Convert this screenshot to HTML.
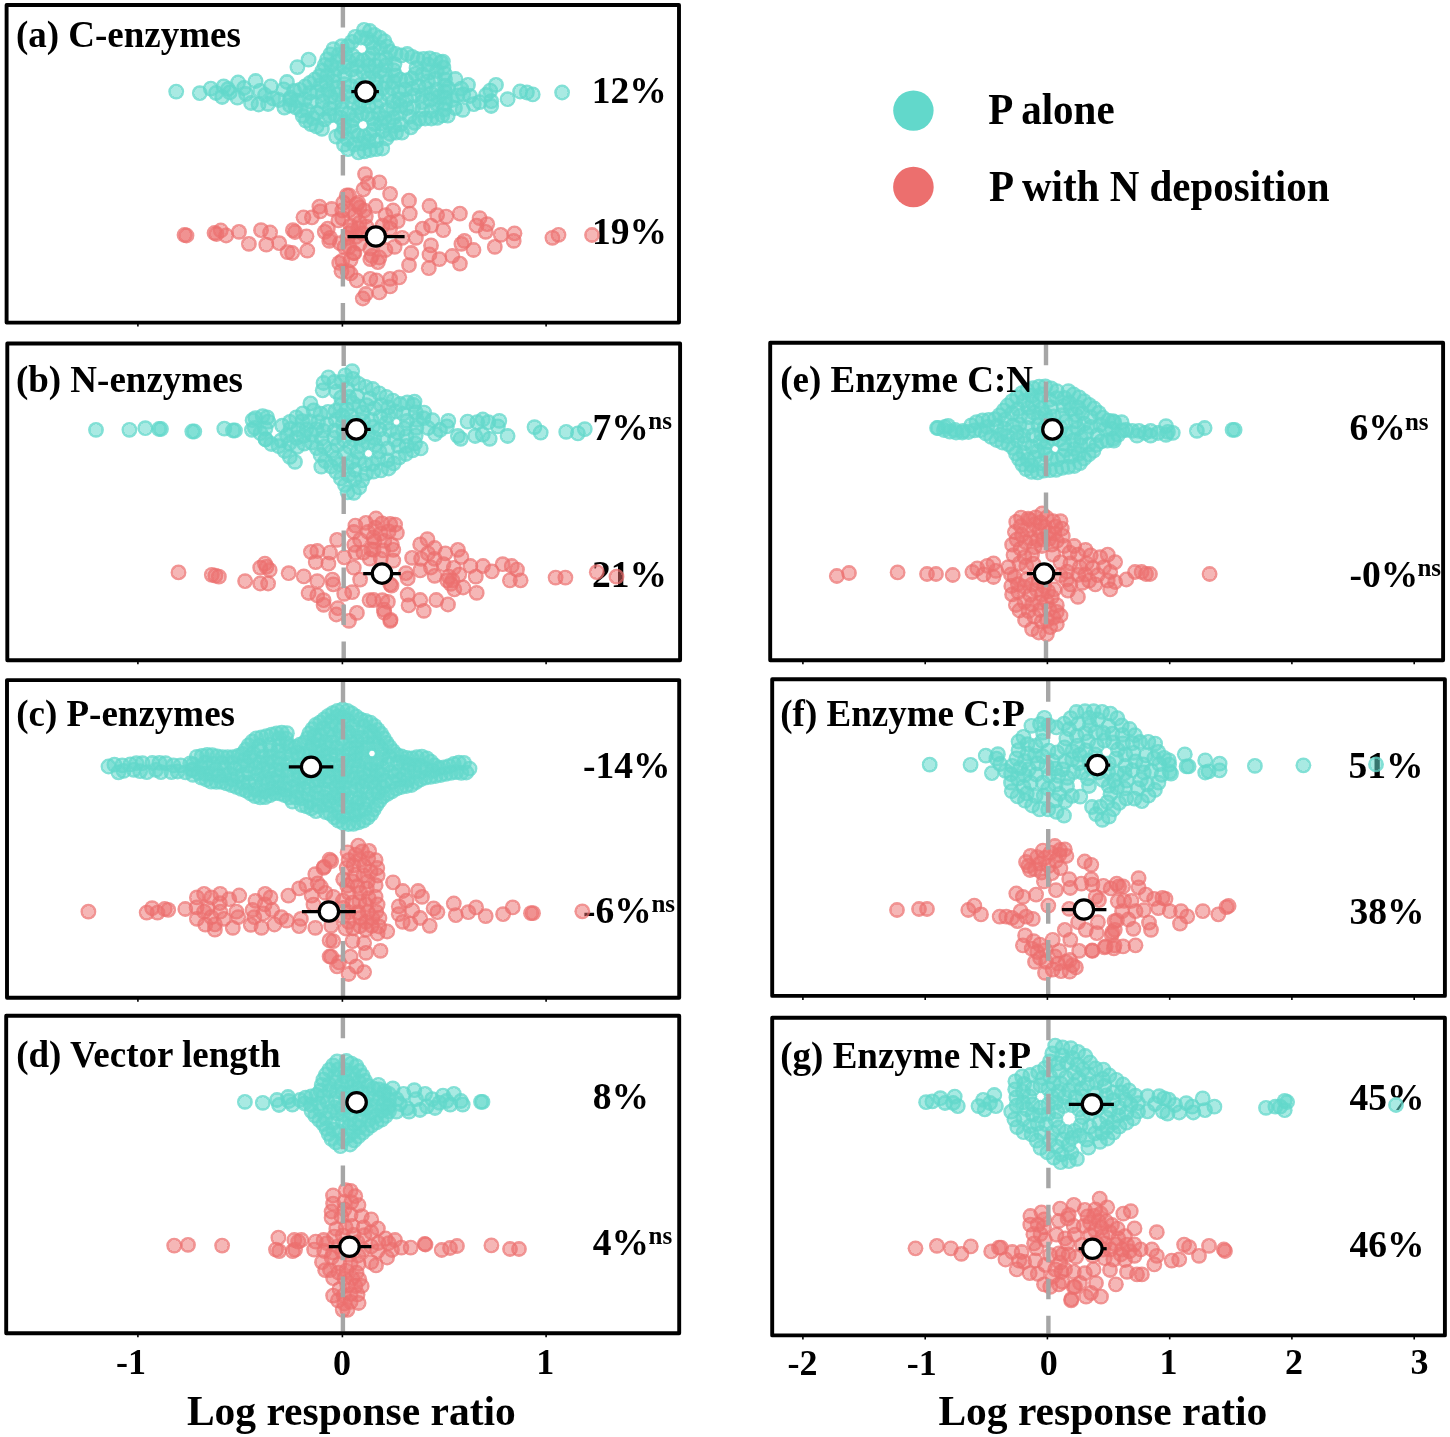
<!DOCTYPE html>
<html><head><meta charset="utf-8"><style>
html,body{margin:0;padding:0;background:#fff;width:1450px;height:1437px;overflow:hidden}
body{position:relative;font-family:"Liberation Serif",serif;font-weight:bold;color:#000;line-height:1}
div{white-space:nowrap}
sup{font-size:25px;vertical-align:0;position:relative;top:-0.52em;margin-left:2px}
svg{position:absolute;left:0;top:0}
body>*{filter:blur(0.4px)}
</style></head><body>
<div style="position:absolute;left:591.8px;top:71.8px;font-size:37.5px;">12%</div><div style="position:absolute;left:592.0px;top:213.4px;font-size:37.5px;">19%</div><div style="position:absolute;left:592.6px;top:409.0px;font-size:37.5px;">7%</div><div style="position:absolute;left:591.9px;top:556.2px;font-size:37.5px;">21%</div><div style="position:absolute;left:582.9px;top:746.5px;font-size:37.5px;">-14%</div><div style="position:absolute;left:582.9px;top:892.0px;font-size:37.5px;">-6%</div><div style="position:absolute;left:592.7px;top:1078.0px;font-size:37.5px;">8%</div><div style="position:absolute;left:592.7px;top:1224.2px;font-size:37.5px;">4%</div><div style="position:absolute;left:1349.6px;top:409.0px;font-size:37.5px;">6%</div><div style="position:absolute;left:1349.6px;top:555.5px;font-size:37.5px;">-0%</div><div style="position:absolute;left:1348.6px;top:746.5px;font-size:37.5px;">51%</div><div style="position:absolute;left:1349.6px;top:893.4px;font-size:37.5px;">38%</div><div style="position:absolute;left:1349.6px;top:1078.7px;font-size:37.5px;">45%</div><div style="position:absolute;left:1349.6px;top:1225.6px;font-size:37.5px;">46%</div><div style="position:absolute;left:648.3px;top:407.7px;font-size:25px;">ns</div><div style="position:absolute;left:1404.9px;top:409.0px;font-size:25px;">ns</div><div style="position:absolute;left:1417.4px;top:555.3px;font-size:25px;">ns</div><div style="position:absolute;left:651.4px;top:891.0px;font-size:25px;">ns</div><div style="position:absolute;left:648.6px;top:1223.3px;font-size:25px;">ns</div>
<svg width="1450" height="1437" viewBox="0 0 1450 1437">
<defs>
<radialGradient id="gt"><stop offset="0.69" stop-color="#62D8CB" stop-opacity="0.55"/><stop offset="0.69" stop-color="#62D8CB" stop-opacity="0.8"/><stop offset="1" stop-color="#62D8CB" stop-opacity="0.8"/></radialGradient>
<radialGradient id="gr"><stop offset="0.69" stop-color="#EC6F6E" stop-opacity="0.5"/><stop offset="0.69" stop-color="#EC6F6E" stop-opacity="0.75"/><stop offset="1" stop-color="#EC6F6E" stop-opacity="0.75"/></radialGradient>
</defs>
<g fill="url(#gt)"><circle cx="374.5" cy="123.9" r="7.9"/><circle cx="324.7" cy="119.3" r="7.9"/><circle cx="422.4" cy="74.4" r="7.9"/><circle cx="375.5" cy="87.2" r="7.9"/><circle cx="462.7" cy="109.9" r="7.9"/><circle cx="311.1" cy="101.7" r="7.9"/><circle cx="463.2" cy="94.4" r="7.9"/><circle cx="399.0" cy="92.2" r="7.9"/><circle cx="322.5" cy="70.6" r="7.9"/><circle cx="346.5" cy="92.4" r="7.9"/><circle cx="382.8" cy="130.8" r="7.9"/><circle cx="297.0" cy="100.6" r="7.9"/><circle cx="455.4" cy="79.0" r="7.9"/><circle cx="351.6" cy="69.7" r="7.9"/><circle cx="356.3" cy="115.6" r="7.9"/><circle cx="395.6" cy="75.7" r="7.9"/><circle cx="375.4" cy="65.8" r="7.9"/><circle cx="223.7" cy="86.3" r="7.9"/><circle cx="412.2" cy="56.8" r="7.9"/><circle cx="417.6" cy="59.2" r="7.9"/><circle cx="392.3" cy="88.4" r="7.9"/><circle cx="355.2" cy="36.8" r="7.9"/><circle cx="314.9" cy="79.5" r="7.9"/><circle cx="316.5" cy="126.4" r="7.9"/><circle cx="297.4" cy="67.1" r="7.9"/><circle cx="422.1" cy="102.2" r="7.9"/><circle cx="364.0" cy="29.9" r="7.9"/><circle cx="309.8" cy="92.9" r="7.9"/><circle cx="287.0" cy="82.0" r="7.9"/><circle cx="344.3" cy="128.5" r="7.9"/><circle cx="329.4" cy="115.7" r="7.9"/><circle cx="344.0" cy="122.5" r="7.9"/><circle cx="347.7" cy="46.1" r="7.9"/><circle cx="443.4" cy="67.7" r="7.9"/><circle cx="344.2" cy="84.2" r="7.9"/><circle cx="390.1" cy="51.6" r="7.9"/><circle cx="386.3" cy="109.9" r="7.9"/><circle cx="344.9" cy="74.8" r="7.9"/><circle cx="290.0" cy="105.4" r="7.9"/><circle cx="395.6" cy="53.8" r="7.9"/><circle cx="406.5" cy="108.2" r="7.9"/><circle cx="334.3" cy="75.4" r="7.9"/><circle cx="347.5" cy="139.1" r="7.9"/><circle cx="369.6" cy="90.5" r="7.9"/><circle cx="376.2" cy="149.1" r="7.9"/><circle cx="479.6" cy="102.1" r="7.9"/><circle cx="425.2" cy="118.5" r="7.9"/><circle cx="308.6" cy="59.7" r="7.9"/><circle cx="348.7" cy="113.7" r="7.9"/><circle cx="376.6" cy="94.5" r="7.9"/><circle cx="323.0" cy="94.1" r="7.9"/><circle cx="373.6" cy="129.8" r="7.9"/><circle cx="237.4" cy="97.7" r="7.9"/><circle cx="273.0" cy="98.5" r="7.9"/><circle cx="317.0" cy="113.0" r="7.9"/><circle cx="374.4" cy="34.9" r="7.9"/><circle cx="428.9" cy="72.6" r="7.9"/><circle cx="393.2" cy="101.6" r="7.9"/><circle cx="360.4" cy="85.1" r="7.9"/><circle cx="360.9" cy="37.5" r="7.9"/><circle cx="333.4" cy="49.2" r="7.9"/><circle cx="353.6" cy="131.7" r="7.9"/><circle cx="341.5" cy="133.7" r="7.9"/><circle cx="222.2" cy="97.0" r="7.9"/><circle cx="363.1" cy="60.5" r="7.9"/><circle cx="430.5" cy="99.9" r="7.9"/><circle cx="376.1" cy="140.7" r="7.9"/><circle cx="372.4" cy="118.3" r="7.9"/><circle cx="468.0" cy="84.8" r="7.9"/><circle cx="394.7" cy="125.9" r="7.9"/><circle cx="428.1" cy="64.6" r="7.9"/><circle cx="400.5" cy="105.9" r="7.9"/><circle cx="386.3" cy="138.4" r="7.9"/><circle cx="437.2" cy="117.9" r="7.9"/><circle cx="526.9" cy="92.5" r="7.9"/><circle cx="335.3" cy="115.1" r="7.9"/><circle cx="444.6" cy="73.6" r="7.9"/><circle cx="368.4" cy="141.5" r="7.9"/><circle cx="418.7" cy="86.4" r="7.9"/><circle cx="445.0" cy="91.7" r="7.9"/><circle cx="341.9" cy="109.1" r="7.9"/><circle cx="414.0" cy="95.3" r="7.9"/><circle cx="380.3" cy="47.8" r="7.9"/><circle cx="363.5" cy="72.0" r="7.9"/><circle cx="330.3" cy="54.3" r="7.9"/><circle cx="368.5" cy="106.1" r="7.9"/><circle cx="371.9" cy="72.0" r="7.9"/><circle cx="376.3" cy="80.3" r="7.9"/><circle cx="228.0" cy="89.0" r="7.9"/><circle cx="445.0" cy="97.7" r="7.9"/><circle cx="380.1" cy="100.6" r="7.9"/><circle cx="352.4" cy="120.2" r="7.9"/><circle cx="294.1" cy="90.9" r="7.9"/><circle cx="357.2" cy="59.6" r="7.9"/><circle cx="336.7" cy="87.5" r="7.9"/><circle cx="384.3" cy="41.1" r="7.9"/><circle cx="367.8" cy="114.4" r="7.9"/><circle cx="246.0" cy="94.0" r="7.9"/><circle cx="369.7" cy="134.4" r="7.9"/><circle cx="330.8" cy="96.7" r="7.9"/><circle cx="358.9" cy="107.1" r="7.9"/><circle cx="251.0" cy="103.0" r="7.9"/><circle cx="270.8" cy="86.3" r="7.9"/><circle cx="429.7" cy="58.3" r="7.9"/><circle cx="369.8" cy="31.0" r="7.9"/><circle cx="409.5" cy="116.6" r="7.9"/><circle cx="260.0" cy="90.9" r="7.9"/><circle cx="413.3" cy="107.1" r="7.9"/><circle cx="322.7" cy="101.4" r="7.9"/><circle cx="304.8" cy="99.5" r="7.9"/><circle cx="344.0" cy="144.7" r="7.9"/><circle cx="473.8" cy="104.1" r="7.9"/><circle cx="412.4" cy="88.6" r="7.9"/><circle cx="444.1" cy="109.6" r="7.9"/><circle cx="406.1" cy="80.5" r="7.9"/><circle cx="490.2" cy="90.6" r="7.9"/><circle cx="431.4" cy="110.9" r="7.9"/><circle cx="372.6" cy="53.8" r="7.9"/><circle cx="255.6" cy="81.0" r="7.9"/><circle cx="320.7" cy="84.9" r="7.9"/><circle cx="358.2" cy="135.6" r="7.9"/><circle cx="470.0" cy="96.0" r="7.9"/><circle cx="400.2" cy="113.1" r="7.9"/><circle cx="338.8" cy="54.8" r="7.9"/><circle cx="355.9" cy="76.7" r="7.9"/><circle cx="345.3" cy="54.2" r="7.9"/><circle cx="368.5" cy="78.4" r="7.9"/><circle cx="399.2" cy="99.2" r="7.9"/><circle cx="393.7" cy="81.9" r="7.9"/><circle cx="340.7" cy="117.6" r="7.9"/><circle cx="387.0" cy="46.5" r="7.9"/><circle cx="283.7" cy="89.4" r="7.9"/><circle cx="300.7" cy="110.3" r="7.9"/><circle cx="401.4" cy="55.5" r="7.9"/><circle cx="364.4" cy="151.3" r="7.9"/><circle cx="306.0" cy="120.7" r="7.9"/><circle cx="324.8" cy="65.0" r="7.9"/><circle cx="336.3" cy="136.7" r="7.9"/><circle cx="305.0" cy="86.5" r="7.9"/><circle cx="329.8" cy="108.7" r="7.9"/><circle cx="393.1" cy="117.9" r="7.9"/><circle cx="290.0" cy="99.4" r="7.9"/><circle cx="385.5" cy="75.3" r="7.9"/><circle cx="419.2" cy="118.9" r="7.9"/><circle cx="326.2" cy="81.8" r="7.9"/><circle cx="435.3" cy="59.8" r="7.9"/><circle cx="445.0" cy="103.7" r="7.9"/><circle cx="388.6" cy="123.2" r="7.9"/><circle cx="435.1" cy="79.0" r="7.9"/><circle cx="352.6" cy="55.7" r="7.9"/><circle cx="461.2" cy="88.6" r="7.9"/><circle cx="358.5" cy="92.2" r="7.9"/><circle cx="342.1" cy="101.5" r="7.9"/><circle cx="341.8" cy="46.2" r="7.9"/><circle cx="436.8" cy="71.0" r="7.9"/><circle cx="238.1" cy="82.5" r="7.9"/><circle cx="348.1" cy="149.2" r="7.9"/><circle cx="368.8" cy="65.6" r="7.9"/><circle cx="265.0" cy="95.0" r="7.9"/><circle cx="331.2" cy="65.2" r="7.9"/><circle cx="327.6" cy="75.2" r="7.9"/><circle cx="394.4" cy="64.2" r="7.9"/><circle cx="199.8" cy="93.1" r="7.9"/><circle cx="376.2" cy="106.1" r="7.9"/><circle cx="336.7" cy="69.0" r="7.9"/><circle cx="317.1" cy="91.8" r="7.9"/><circle cx="334.9" cy="102.4" r="7.9"/><circle cx="520.1" cy="91.5" r="7.9"/><circle cx="382.2" cy="148.5" r="7.9"/><circle cx="370.2" cy="150.0" r="7.9"/><circle cx="425.6" cy="87.9" r="7.9"/><circle cx="388.6" cy="94.8" r="7.9"/><circle cx="352.5" cy="102.8" r="7.9"/><circle cx="562.1" cy="92.5" r="7.9"/><circle cx="422.6" cy="95.1" r="7.9"/><circle cx="229.8" cy="92.4" r="7.9"/><circle cx="307.1" cy="110.1" r="7.9"/><circle cx="371.4" cy="42.3" r="7.9"/><circle cx="379.9" cy="60.6" r="7.9"/><circle cx="442.3" cy="115.4" r="7.9"/><circle cx="361.1" cy="100.9" r="7.9"/><circle cx="447.7" cy="115.7" r="7.9"/><circle cx="319.7" cy="75.9" r="7.9"/><circle cx="337.1" cy="61.2" r="7.9"/><circle cx="351.8" cy="41.8" r="7.9"/><circle cx="431.2" cy="93.5" r="7.9"/><circle cx="491.2" cy="106.0" r="7.9"/><circle cx="312.8" cy="118.2" r="7.9"/><circle cx="384.4" cy="118.1" r="7.9"/><circle cx="351.0" cy="86.2" r="7.9"/><circle cx="436.8" cy="89.7" r="7.9"/><circle cx="337.9" cy="94.3" r="7.9"/><circle cx="414.7" cy="122.8" r="7.9"/><circle cx="302.7" cy="116.0" r="7.9"/><circle cx="410.8" cy="127.3" r="7.9"/><circle cx="358.4" cy="152.3" r="7.9"/><circle cx="431.3" cy="118.5" r="7.9"/><circle cx="427.9" cy="81.3" r="7.9"/><circle cx="327.1" cy="59.4" r="7.9"/><circle cx="378.9" cy="114.0" r="7.9"/><circle cx="437.9" cy="97.1" r="7.9"/><circle cx="401.9" cy="132.7" r="7.9"/><circle cx="349.2" cy="61.7" r="7.9"/><circle cx="361.9" cy="113.5" r="7.9"/><circle cx="368.7" cy="58.4" r="7.9"/><circle cx="436.9" cy="104.2" r="7.9"/><circle cx="380.9" cy="123.5" r="7.9"/><circle cx="373.5" cy="47.9" r="7.9"/><circle cx="290.5" cy="97.7" r="7.9"/><circle cx="507.6" cy="99.2" r="7.9"/><circle cx="357.4" cy="66.3" r="7.9"/><circle cx="309.9" cy="83.0" r="7.9"/><circle cx="284.4" cy="107.6" r="7.9"/><circle cx="368.5" cy="97.2" r="7.9"/><circle cx="385.7" cy="65.5" r="7.9"/><circle cx="457.4" cy="95.4" r="7.9"/><circle cx="364.1" cy="136.5" r="7.9"/><circle cx="486.0" cy="95.0" r="7.9"/><circle cx="400.8" cy="124.2" r="7.9"/><circle cx="216.0" cy="93.0" r="7.9"/><circle cx="416.5" cy="67.9" r="7.9"/><circle cx="423.7" cy="58.8" r="7.9"/><circle cx="379.6" cy="71.4" r="7.9"/><circle cx="390.2" cy="134.0" r="7.9"/><circle cx="445.0" cy="79.6" r="7.9"/><circle cx="496.0" cy="84.8" r="7.9"/><circle cx="396.0" cy="132.6" r="7.9"/><circle cx="386.1" cy="58.0" r="7.9"/><circle cx="310.9" cy="124.2" r="7.9"/><circle cx="354.0" cy="144.3" r="7.9"/><circle cx="210.8" cy="88.6" r="7.9"/><circle cx="491.2" cy="101.2" r="7.9"/><circle cx="393.2" cy="108.8" r="7.9"/><circle cx="445.0" cy="85.6" r="7.9"/><circle cx="352.3" cy="96.3" r="7.9"/><circle cx="322.0" cy="128.9" r="7.9"/><circle cx="415.6" cy="73.8" r="7.9"/><circle cx="411.7" cy="78.4" r="7.9"/><circle cx="440.8" cy="62.3" r="7.9"/><circle cx="407.2" cy="54.0" r="7.9"/><circle cx="258.6" cy="104.5" r="7.9"/><circle cx="333.2" cy="81.7" r="7.9"/><circle cx="452.0" cy="100.0" r="7.9"/><circle cx="300.0" cy="89.8" r="7.9"/><circle cx="351.5" cy="126.1" r="7.9"/><circle cx="295.7" cy="107.3" r="7.9"/><circle cx="385.9" cy="82.2" r="7.9"/><circle cx="442.9" cy="61.6" r="7.9"/><circle cx="328.2" cy="90.2" r="7.9"/><circle cx="455.0" cy="108.0" r="7.9"/><circle cx="532.7" cy="94.4" r="7.9"/><circle cx="366.8" cy="38.4" r="7.9"/><circle cx="406.1" cy="99.7" r="7.9"/><circle cx="362.2" cy="143.5" r="7.9"/><circle cx="379.7" cy="37.6" r="7.9"/><circle cx="176.2" cy="91.6" r="7.9"/><circle cx="268.0" cy="104.0" r="7.9"/><circle cx="400.2" cy="79.6" r="7.9"/><circle cx="422.2" cy="109.9" r="7.9"/><circle cx="405.3" cy="89.5" r="7.9"/><circle cx="448.0" cy="88.0" r="7.9"/><circle cx="393.5" cy="70.1" r="7.9"/><circle cx="343.9" cy="66.5" r="7.9"/><circle cx="279.0" cy="100.0" r="7.9"/><circle cx="244.0" cy="88.0" r="7.9"/><circle cx="382.3" cy="88.4" r="7.9"/><circle cx="321.8" cy="108.8" r="7.9"/></g>
<g fill="url(#gr)"><circle cx="343.3" cy="202.6" r="7.9"/><circle cx="379.4" cy="182.4" r="7.9"/><circle cx="592.0" cy="235.0" r="7.9"/><circle cx="422.7" cy="228.7" r="7.9"/><circle cx="266.3" cy="244.7" r="7.9"/><circle cx="287.6" cy="252.2" r="7.9"/><circle cx="329.3" cy="240.9" r="7.9"/><circle cx="319.4" cy="206.7" r="7.9"/><circle cx="350.5" cy="260.2" r="7.9"/><circle cx="365.8" cy="294.0" r="7.9"/><circle cx="411.3" cy="253.0" r="7.9"/><circle cx="261.0" cy="230.2" r="7.9"/><circle cx="513.7" cy="240.9" r="7.9"/><circle cx="214.5" cy="233.0" r="7.9"/><circle cx="349.1" cy="246.9" r="7.9"/><circle cx="270.1" cy="232.5" r="7.9"/><circle cx="239.0" cy="231.8" r="7.9"/><circle cx="320.2" cy="211.3" r="7.9"/><circle cx="379.4" cy="257.5" r="7.9"/><circle cx="390.1" cy="222.7" r="7.9"/><circle cx="356.7" cy="280.3" r="7.9"/><circle cx="327.8" cy="228.7" r="7.9"/><circle cx="459.9" cy="213.6" r="7.9"/><circle cx="342.3" cy="260.6" r="7.9"/><circle cx="344.5" cy="246.9" r="7.9"/><circle cx="355.2" cy="215.1" r="7.9"/><circle cx="350.5" cy="273.5" r="7.9"/><circle cx="371.9" cy="256.0" r="7.9"/><circle cx="485.7" cy="231.8" r="7.9"/><circle cx="359.7" cy="222.7" r="7.9"/><circle cx="349.0" cy="210.5" r="7.9"/><circle cx="347.5" cy="237.8" r="7.9"/><circle cx="347.6" cy="271.2" r="7.9"/><circle cx="354.4" cy="253.0" r="7.9"/><circle cx="338.4" cy="220.4" r="7.9"/><circle cx="473.5" cy="250.0" r="7.9"/><circle cx="220.8" cy="230.5" r="7.9"/><circle cx="349.1" cy="195.3" r="7.9"/><circle cx="365.8" cy="216.6" r="7.9"/><circle cx="358.2" cy="202.9" r="7.9"/><circle cx="409.0" cy="265.1" r="7.9"/><circle cx="476.6" cy="225.7" r="7.9"/><circle cx="341.5" cy="271.2" r="7.9"/><circle cx="464.4" cy="240.9" r="7.9"/><circle cx="494.8" cy="246.9" r="7.9"/><circle cx="394.6" cy="246.9" r="7.9"/><circle cx="342.3" cy="210.5" r="7.9"/><circle cx="446.2" cy="216.6" r="7.9"/><circle cx="363.5" cy="189.3" r="7.9"/><circle cx="324.8" cy="231.8" r="7.9"/><circle cx="248.9" cy="243.9" r="7.9"/><circle cx="390.1" cy="278.8" r="7.9"/><circle cx="184.5" cy="235.0" r="7.9"/><circle cx="558.5" cy="234.8" r="7.9"/><circle cx="365.0" cy="174.1" r="7.9"/><circle cx="452.3" cy="256.0" r="7.9"/><circle cx="226.1" cy="235.5" r="7.9"/><circle cx="359.7" cy="243.9" r="7.9"/><circle cx="353.6" cy="253.0" r="7.9"/><circle cx="366.4" cy="226.6" r="7.9"/><circle cx="382.5" cy="225.7" r="7.9"/><circle cx="429.5" cy="254.5" r="7.9"/><circle cx="362.8" cy="233.3" r="7.9"/><circle cx="429.5" cy="206.0" r="7.9"/><circle cx="437.1" cy="215.1" r="7.9"/><circle cx="359.7" cy="207.5" r="7.9"/><circle cx="331.6" cy="209.0" r="7.9"/><circle cx="552.4" cy="237.8" r="7.9"/><circle cx="459.9" cy="263.6" r="7.9"/><circle cx="342.3" cy="218.1" r="7.9"/><circle cx="339.9" cy="243.1" r="7.9"/><circle cx="355.8" cy="236.9" r="7.9"/><circle cx="186.5" cy="235.5" r="7.9"/><circle cx="399.2" cy="277.3" r="7.9"/><circle cx="390.1" cy="228.7" r="7.9"/><circle cx="479.6" cy="218.1" r="7.9"/><circle cx="390.1" cy="286.4" r="7.9"/><circle cx="216.5" cy="234.0" r="7.9"/><circle cx="362.8" cy="298.5" r="7.9"/><circle cx="339.2" cy="262.9" r="7.9"/><circle cx="393.1" cy="210.5" r="7.9"/><circle cx="349.1" cy="233.3" r="7.9"/><circle cx="330.1" cy="237.8" r="7.9"/><circle cx="370.3" cy="248.4" r="7.9"/><circle cx="292.9" cy="230.2" r="7.9"/><circle cx="431.0" cy="245.4" r="7.9"/><circle cx="370.3" cy="278.8" r="7.9"/><circle cx="350.5" cy="225.7" r="7.9"/><circle cx="415.9" cy="237.8" r="7.9"/><circle cx="295.0" cy="232.0" r="7.9"/><circle cx="306.5" cy="236.3" r="7.9"/><circle cx="356.6" cy="204.4" r="7.9"/><circle cx="307.3" cy="250.7" r="7.9"/><circle cx="358.2" cy="228.7" r="7.9"/><circle cx="487.2" cy="224.2" r="7.9"/><circle cx="292.1" cy="253.0" r="7.9"/><circle cx="409.0" cy="200.7" r="7.9"/><circle cx="397.7" cy="221.1" r="7.9"/><circle cx="379.4" cy="292.4" r="7.9"/><circle cx="364.3" cy="210.5" r="7.9"/><circle cx="461.4" cy="243.9" r="7.9"/><circle cx="402.2" cy="237.8" r="7.9"/><circle cx="279.2" cy="243.1" r="7.9"/><circle cx="385.5" cy="250.0" r="7.9"/><circle cx="385.5" cy="215.1" r="7.9"/><circle cx="370.3" cy="259.1" r="7.9"/><circle cx="500.8" cy="234.8" r="7.9"/><circle cx="346.8" cy="195.3" r="7.9"/><circle cx="390.1" cy="193.8" r="7.9"/><circle cx="443.2" cy="230.2" r="7.9"/><circle cx="303.5" cy="217.3" r="7.9"/><circle cx="352.0" cy="230.2" r="7.9"/><circle cx="377.9" cy="262.1" r="7.9"/><circle cx="428.8" cy="268.2" r="7.9"/><circle cx="311.9" cy="217.3" r="7.9"/><circle cx="376.4" cy="280.3" r="7.9"/><circle cx="368.0" cy="183.2" r="7.9"/><circle cx="514.5" cy="233.3" r="7.9"/><circle cx="439.4" cy="259.1" r="7.9"/><circle cx="409.8" cy="213.6" r="7.9"/><circle cx="375.7" cy="206.0" r="7.9"/><circle cx="431.0" cy="225.7" r="7.9"/></g>
<g fill="url(#gt)"><circle cx="534.5" cy="427.1" r="7.9"/><circle cx="369.9" cy="398.4" r="7.9"/><circle cx="339.6" cy="464.2" r="7.9"/><circle cx="145.3" cy="428.2" r="7.9"/><circle cx="347.6" cy="492.3" r="7.9"/><circle cx="331.7" cy="451.0" r="7.9"/><circle cx="388.3" cy="415.3" r="7.9"/><circle cx="383.2" cy="438.8" r="7.9"/><circle cx="379.2" cy="393.3" r="7.9"/><circle cx="348.4" cy="475.0" r="7.9"/><circle cx="323.4" cy="430.9" r="7.9"/><circle cx="435.2" cy="434.0" r="7.9"/><circle cx="233.0" cy="430.5" r="7.9"/><circle cx="341.8" cy="382.0" r="7.9"/><circle cx="357.1" cy="396.1" r="7.9"/><circle cx="161.0" cy="429.0" r="7.9"/><circle cx="388.6" cy="468.5" r="7.9"/><circle cx="584.8" cy="429.1" r="7.9"/><circle cx="297.1" cy="446.8" r="7.9"/><circle cx="278.7" cy="446.2" r="7.9"/><circle cx="398.9" cy="457.6" r="7.9"/><circle cx="337.3" cy="445.1" r="7.9"/><circle cx="507.6" cy="436.0" r="7.9"/><circle cx="446.9" cy="426.4" r="7.9"/><circle cx="340.9" cy="478.4" r="7.9"/><circle cx="372.5" cy="463.8" r="7.9"/><circle cx="313.7" cy="410.4" r="7.9"/><circle cx="298.1" cy="429.4" r="7.9"/><circle cx="415.7" cy="435.6" r="7.9"/><circle cx="406.6" cy="445.9" r="7.9"/><circle cx="360.2" cy="437.6" r="7.9"/><circle cx="328.0" cy="411.8" r="7.9"/><circle cx="404.7" cy="428.7" r="7.9"/><circle cx="310.4" cy="403.4" r="7.9"/><circle cx="416.4" cy="427.8" r="7.9"/><circle cx="328.4" cy="377.3" r="7.9"/><circle cx="326.9" cy="424.3" r="7.9"/><circle cx="260.5" cy="433.2" r="7.9"/><circle cx="359.2" cy="487.5" r="7.9"/><circle cx="354.8" cy="469.9" r="7.9"/><circle cx="350.2" cy="428.5" r="7.9"/><circle cx="267.1" cy="417.4" r="7.9"/><circle cx="306.3" cy="429.1" r="7.9"/><circle cx="347.5" cy="389.0" r="7.9"/><circle cx="96.0" cy="429.8" r="7.9"/><circle cx="393.0" cy="400.6" r="7.9"/><circle cx="373.4" cy="471.6" r="7.9"/><circle cx="316.2" cy="429.1" r="7.9"/><circle cx="420.7" cy="448.4" r="7.9"/><circle cx="386.2" cy="396.8" r="7.9"/><circle cx="254.9" cy="427.9" r="7.9"/><circle cx="342.9" cy="423.2" r="7.9"/><circle cx="540.7" cy="432.6" r="7.9"/><circle cx="374.4" cy="408.4" r="7.9"/><circle cx="262.6" cy="416.1" r="7.9"/><circle cx="287.0" cy="435.4" r="7.9"/><circle cx="311.7" cy="434.5" r="7.9"/><circle cx="372.7" cy="389.0" r="7.9"/><circle cx="365.6" cy="386.8" r="7.9"/><circle cx="432.4" cy="420.2" r="7.9"/><circle cx="378.2" cy="458.8" r="7.9"/><circle cx="467.6" cy="421.6" r="7.9"/><circle cx="311.7" cy="442.7" r="7.9"/><circle cx="271.3" cy="444.0" r="7.9"/><circle cx="448.3" cy="420.9" r="7.9"/><circle cx="335.6" cy="410.9" r="7.9"/><circle cx="302.4" cy="421.1" r="7.9"/><circle cx="322.7" cy="390.3" r="7.9"/><circle cx="387.7" cy="448.4" r="7.9"/><circle cx="336.4" cy="391.6" r="7.9"/><circle cx="251.9" cy="429.8" r="7.9"/><circle cx="345.2" cy="375.4" r="7.9"/><circle cx="405.8" cy="454.0" r="7.9"/><circle cx="368.3" cy="442.4" r="7.9"/><circle cx="318.0" cy="422.1" r="7.9"/><circle cx="361.2" cy="445.2" r="7.9"/><circle cx="380.4" cy="416.8" r="7.9"/><circle cx="268.2" cy="421.6" r="7.9"/><circle cx="413.6" cy="405.0" r="7.9"/><circle cx="349.2" cy="397.0" r="7.9"/><circle cx="255.4" cy="418.1" r="7.9"/><circle cx="340.8" cy="405.3" r="7.9"/><circle cx="321.8" cy="438.4" r="7.9"/><circle cx="336.4" cy="472.0" r="7.9"/><circle cx="372.8" cy="427.0" r="7.9"/><circle cx="352.8" cy="378.8" r="7.9"/><circle cx="415.1" cy="443.4" r="7.9"/><circle cx="224.3" cy="428.7" r="7.9"/><circle cx="252.6" cy="420.2" r="7.9"/><circle cx="194.3" cy="431.5" r="7.9"/><circle cx="407.0" cy="421.0" r="7.9"/><circle cx="295.0" cy="461.8" r="7.9"/><circle cx="375.4" cy="444.8" r="7.9"/><circle cx="159.0" cy="429.0" r="7.9"/><circle cx="265.5" cy="439.2" r="7.9"/><circle cx="341.1" cy="397.6" r="7.9"/><circle cx="367.9" cy="433.6" r="7.9"/><circle cx="398.5" cy="446.0" r="7.9"/><circle cx="331.1" cy="466.3" r="7.9"/><circle cx="346.6" cy="466.2" r="7.9"/><circle cx="359.2" cy="406.4" r="7.9"/><circle cx="415.8" cy="412.3" r="7.9"/><circle cx="381.0" cy="470.3" r="7.9"/><circle cx="321.3" cy="466.7" r="7.9"/><circle cx="407.4" cy="402.4" r="7.9"/><circle cx="499.3" cy="420.9" r="7.9"/><circle cx="379.6" cy="429.7" r="7.9"/><circle cx="302.9" cy="413.3" r="7.9"/><circle cx="353.9" cy="492.9" r="7.9"/><circle cx="364.9" cy="464.0" r="7.9"/><circle cx="395.5" cy="411.5" r="7.9"/><circle cx="352.2" cy="461.5" r="7.9"/><circle cx="366.5" cy="405.2" r="7.9"/><circle cx="357.6" cy="429.2" r="7.9"/><circle cx="304.2" cy="443.7" r="7.9"/><circle cx="344.1" cy="439.8" r="7.9"/><circle cx="343.4" cy="431.1" r="7.9"/><circle cx="397.5" cy="432.5" r="7.9"/><circle cx="129.4" cy="429.8" r="7.9"/><circle cx="342.4" cy="415.6" r="7.9"/><circle cx="393.7" cy="463.3" r="7.9"/><circle cx="394.9" cy="439.8" r="7.9"/><circle cx="428.0" cy="428.0" r="7.9"/><circle cx="412.6" cy="450.3" r="7.9"/><circle cx="363.2" cy="421.0" r="7.9"/><circle cx="282.2" cy="425.7" r="7.9"/><circle cx="389.8" cy="430.2" r="7.9"/><circle cx="289.4" cy="443.5" r="7.9"/><circle cx="362.9" cy="412.6" r="7.9"/><circle cx="303.7" cy="435.9" r="7.9"/><circle cx="265.7" cy="439.5" r="7.9"/><circle cx="482.8" cy="419.5" r="7.9"/><circle cx="460.7" cy="438.8" r="7.9"/><circle cx="284.7" cy="451.0" r="7.9"/><circle cx="387.4" cy="460.1" r="7.9"/><circle cx="320.6" cy="455.0" r="7.9"/><circle cx="400.0" cy="404.0" r="7.9"/><circle cx="355.2" cy="422.3" r="7.9"/><circle cx="289.9" cy="421.8" r="7.9"/><circle cx="334.4" cy="382.0" r="7.9"/><circle cx="416.9" cy="420.0" r="7.9"/><circle cx="354.5" cy="478.9" r="7.9"/><circle cx="566.2" cy="431.9" r="7.9"/><circle cx="406.3" cy="436.3" r="7.9"/><circle cx="265.4" cy="428.6" r="7.9"/><circle cx="290.5" cy="429.0" r="7.9"/><circle cx="475.2" cy="436.0" r="7.9"/><circle cx="357.5" cy="451.8" r="7.9"/><circle cx="352.9" cy="403.0" r="7.9"/><circle cx="334.8" cy="430.7" r="7.9"/><circle cx="482.8" cy="434.7" r="7.9"/><circle cx="345.0" cy="485.0" r="7.9"/><circle cx="488.3" cy="422.2" r="7.9"/><circle cx="381.0" cy="405.1" r="7.9"/><circle cx="497.9" cy="426.4" r="7.9"/><circle cx="403.2" cy="413.8" r="7.9"/><circle cx="379.4" cy="451.3" r="7.9"/><circle cx="281.1" cy="440.3" r="7.9"/><circle cx="457.9" cy="436.0" r="7.9"/><circle cx="366.0" cy="473.6" r="7.9"/><circle cx="414.5" cy="401.6" r="7.9"/><circle cx="344.7" cy="453.4" r="7.9"/><circle cx="289.8" cy="456.9" r="7.9"/><circle cx="351.3" cy="416.1" r="7.9"/><circle cx="359.0" cy="459.3" r="7.9"/><circle cx="325.3" cy="461.1" r="7.9"/><circle cx="309.9" cy="421.4" r="7.9"/><circle cx="296.3" cy="417.4" r="7.9"/><circle cx="323.5" cy="383.0" r="7.9"/><circle cx="335.8" cy="420.0" r="7.9"/><circle cx="350.1" cy="447.2" r="7.9"/><circle cx="296.5" cy="437.9" r="7.9"/><circle cx="358.5" cy="383.8" r="7.9"/><circle cx="388.4" cy="407.3" r="7.9"/><circle cx="352.2" cy="371.1" r="7.9"/><circle cx="320.6" cy="413.6" r="7.9"/><circle cx="362.2" cy="480.3" r="7.9"/><circle cx="335.6" cy="458.3" r="7.9"/><circle cx="489.7" cy="438.8" r="7.9"/><circle cx="352.9" cy="439.2" r="7.9"/><circle cx="577.9" cy="433.3" r="7.9"/><circle cx="440.0" cy="430.0" r="7.9"/><circle cx="346.6" cy="409.4" r="7.9"/><circle cx="423.4" cy="418.1" r="7.9"/><circle cx="374.2" cy="437.8" r="7.9"/><circle cx="386.0" cy="423.0" r="7.9"/><circle cx="477.2" cy="422.2" r="7.9"/><circle cx="371.4" cy="419.9" r="7.9"/><circle cx="235.0" cy="430.5" r="7.9"/><circle cx="192.3" cy="431.5" r="7.9"/><circle cx="334.3" cy="437.9" r="7.9"/><circle cx="316.9" cy="448.2" r="7.9"/><circle cx="424.1" cy="412.6" r="7.9"/><circle cx="324.3" cy="446.7" r="7.9"/></g>
<g fill="url(#gr)"><circle cx="390.2" cy="584.3" r="7.9"/><circle cx="375.3" cy="527.7" r="7.9"/><circle cx="390.2" cy="524.0" r="7.9"/><circle cx="380.8" cy="558.8" r="7.9"/><circle cx="454.3" cy="589.3" r="7.9"/><circle cx="420.2" cy="600.0" r="7.9"/><circle cx="360.1" cy="579.6" r="7.9"/><circle cx="365.9" cy="522.8" r="7.9"/><circle cx="407.7" cy="578.5" r="7.9"/><circle cx="332.4" cy="579.6" r="7.9"/><circle cx="390.6" cy="619.8" r="7.9"/><circle cx="373.6" cy="549.8" r="7.9"/><circle cx="260.2" cy="583.5" r="7.9"/><circle cx="354.3" cy="544.8" r="7.9"/><circle cx="337.9" cy="608.1" r="7.9"/><circle cx="363.3" cy="552.6" r="7.9"/><circle cx="323.6" cy="600.2" r="7.9"/><circle cx="308.6" cy="593.0" r="7.9"/><circle cx="317.3" cy="581.1" r="7.9"/><circle cx="288.7" cy="573.2" r="7.9"/><circle cx="368.0" cy="532.0" r="7.9"/><circle cx="260.2" cy="567.7" r="7.9"/><circle cx="407.7" cy="594.7" r="7.9"/><circle cx="333.2" cy="584.3" r="7.9"/><circle cx="266.5" cy="566.9" r="7.9"/><circle cx="317.3" cy="551.0" r="7.9"/><circle cx="420.2" cy="570.4" r="7.9"/><circle cx="509.9" cy="580.3" r="7.9"/><circle cx="264.9" cy="563.7" r="7.9"/><circle cx="391.8" cy="544.7" r="7.9"/><circle cx="517.0" cy="569.6" r="7.9"/><circle cx="408.6" cy="605.4" r="7.9"/><circle cx="383.9" cy="609.7" r="7.9"/><circle cx="344.2" cy="557.3" r="7.9"/><circle cx="390.2" cy="620.8" r="7.9"/><circle cx="565.4" cy="577.6" r="7.9"/><circle cx="349.0" cy="620.8" r="7.9"/><circle cx="369.8" cy="558.7" r="7.9"/><circle cx="511.7" cy="566.0" r="7.9"/><circle cx="450.7" cy="583.9" r="7.9"/><circle cx="353.8" cy="567.7" r="7.9"/><circle cx="374.4" cy="541.5" r="7.9"/><circle cx="355.4" cy="552.6" r="7.9"/><circle cx="380.7" cy="533.6" r="7.9"/><circle cx="391.5" cy="585.7" r="7.9"/><circle cx="491.9" cy="571.3" r="7.9"/><circle cx="395.1" cy="524.7" r="7.9"/><circle cx="448.0" cy="604.5" r="7.9"/><circle cx="520.6" cy="580.3" r="7.9"/><circle cx="555.6" cy="577.6" r="7.9"/><circle cx="452.5" cy="580.3" r="7.9"/><circle cx="215.4" cy="575.6" r="7.9"/><circle cx="461.4" cy="557.0" r="7.9"/><circle cx="475.8" cy="576.7" r="7.9"/><circle cx="383.1" cy="550.3" r="7.9"/><circle cx="218.9" cy="576.7" r="7.9"/><circle cx="393.3" cy="560.6" r="7.9"/><circle cx="420.2" cy="544.4" r="7.9"/><circle cx="463.2" cy="587.5" r="7.9"/><circle cx="356.9" cy="612.9" r="7.9"/><circle cx="434.6" cy="548.0" r="7.9"/><circle cx="315.7" cy="562.1" r="7.9"/><circle cx="434.6" cy="558.8" r="7.9"/><circle cx="457.9" cy="549.8" r="7.9"/><circle cx="245.1" cy="581.1" r="7.9"/><circle cx="268.1" cy="583.5" r="7.9"/><circle cx="369.6" cy="600.2" r="7.9"/><circle cx="352.2" cy="592.2" r="7.9"/><circle cx="427.9" cy="553.4" r="7.9"/><circle cx="310.9" cy="551.8" r="7.9"/><circle cx="269.7" cy="570.0" r="7.9"/><circle cx="317.3" cy="595.4" r="7.9"/><circle cx="303.8" cy="576.4" r="7.9"/><circle cx="373.6" cy="600.0" r="7.9"/><circle cx="447.1" cy="580.3" r="7.9"/><circle cx="434.6" cy="575.8" r="7.9"/><circle cx="421.1" cy="558.8" r="7.9"/><circle cx="388.7" cy="531.4" r="7.9"/><circle cx="596.8" cy="572.2" r="7.9"/><circle cx="427.4" cy="539.1" r="7.9"/><circle cx="211.8" cy="574.8" r="7.9"/><circle cx="436.3" cy="600.0" r="7.9"/><circle cx="470.4" cy="566.0" r="7.9"/><circle cx="382.1" cy="523.4" r="7.9"/><circle cx="396.9" cy="532.8" r="7.9"/><circle cx="353.8" cy="532.0" r="7.9"/><circle cx="355.4" cy="525.6" r="7.9"/><circle cx="405.9" cy="573.1" r="7.9"/><circle cx="459.2" cy="574.6" r="7.9"/><circle cx="330.0" cy="552.6" r="7.9"/><circle cx="337.1" cy="539.9" r="7.9"/><circle cx="430.9" cy="567.5" r="7.9"/><circle cx="448.9" cy="576.7" r="7.9"/><circle cx="412.1" cy="557.9" r="7.9"/><circle cx="373.6" cy="537.3" r="7.9"/><circle cx="376.0" cy="518.5" r="7.9"/><circle cx="371.2" cy="549.4" r="7.9"/><circle cx="384.3" cy="612.6" r="7.9"/><circle cx="443.5" cy="564.2" r="7.9"/><circle cx="483.0" cy="566.0" r="7.9"/><circle cx="393.3" cy="549.8" r="7.9"/><circle cx="387.9" cy="601.8" r="7.9"/><circle cx="423.8" cy="610.8" r="7.9"/><circle cx="453.8" cy="567.8" r="7.9"/><circle cx="382.3" cy="600.2" r="7.9"/><circle cx="328.4" cy="563.7" r="7.9"/><circle cx="384.3" cy="540.9" r="7.9"/><circle cx="336.3" cy="614.5" r="7.9"/><circle cx="360.1" cy="539.9" r="7.9"/><circle cx="445.3" cy="553.4" r="7.9"/><circle cx="616.5" cy="576.7" r="7.9"/><circle cx="344.2" cy="593.8" r="7.9"/><circle cx="178.5" cy="572.4" r="7.9"/><circle cx="502.7" cy="564.2" r="7.9"/><circle cx="476.7" cy="592.9" r="7.9"/><circle cx="323.6" cy="604.9" r="7.9"/></g>
<g fill="url(#gt)"><circle cx="357.7" cy="783.0" r="7.9"/><circle cx="306.8" cy="762.9" r="7.9"/><circle cx="266.5" cy="736.1" r="7.9"/><circle cx="357.4" cy="732.1" r="7.9"/><circle cx="309.3" cy="756.5" r="7.9"/><circle cx="278.5" cy="775.8" r="7.9"/><circle cx="211.0" cy="773.9" r="7.9"/><circle cx="152.3" cy="763.0" r="7.9"/><circle cx="348.3" cy="824.0" r="7.9"/><circle cx="313.0" cy="743.6" r="7.9"/><circle cx="229.8" cy="773.8" r="7.9"/><circle cx="430.8" cy="761.6" r="7.9"/><circle cx="190.2" cy="763.4" r="7.9"/><circle cx="288.3" cy="770.1" r="7.9"/><circle cx="281.7" cy="770.2" r="7.9"/><circle cx="226.6" cy="783.3" r="7.9"/><circle cx="306.8" cy="806.4" r="7.9"/><circle cx="349.9" cy="748.5" r="7.9"/><circle cx="300.0" cy="744.7" r="7.9"/><circle cx="381.6" cy="749.1" r="7.9"/><circle cx="268.0" cy="782.6" r="7.9"/><circle cx="411.8" cy="758.4" r="7.9"/><circle cx="404.5" cy="775.5" r="7.9"/><circle cx="323.9" cy="766.8" r="7.9"/><circle cx="357.0" cy="741.1" r="7.9"/><circle cx="242.7" cy="753.9" r="7.9"/><circle cx="308.9" cy="786.8" r="7.9"/><circle cx="281.7" cy="732.6" r="7.9"/><circle cx="399.8" cy="779.6" r="7.9"/><circle cx="367.6" cy="817.6" r="7.9"/><circle cx="359.7" cy="797.9" r="7.9"/><circle cx="381.1" cy="733.9" r="7.9"/><circle cx="114.4" cy="764.7" r="7.9"/><circle cx="240.5" cy="765.3" r="7.9"/><circle cx="355.0" cy="814.9" r="7.9"/><circle cx="347.3" cy="710.8" r="7.9"/><circle cx="206.4" cy="779.5" r="7.9"/><circle cx="249.3" cy="757.2" r="7.9"/><circle cx="356.2" cy="772.6" r="7.9"/><circle cx="464.0" cy="762.8" r="7.9"/><circle cx="342.0" cy="777.0" r="7.9"/><circle cx="350.6" cy="788.0" r="7.9"/><circle cx="224.4" cy="775.1" r="7.9"/><circle cx="379.5" cy="800.6" r="7.9"/><circle cx="231.5" cy="785.1" r="7.9"/><circle cx="216.4" cy="781.8" r="7.9"/><circle cx="280.0" cy="764.4" r="7.9"/><circle cx="217.3" cy="756.4" r="7.9"/><circle cx="391.8" cy="791.3" r="7.9"/><circle cx="382.5" cy="754.5" r="7.9"/><circle cx="320.7" cy="762.2" r="7.9"/><circle cx="339.3" cy="812.3" r="7.9"/><circle cx="279.3" cy="738.3" r="7.9"/><circle cx="440.7" cy="775.0" r="7.9"/><circle cx="461.3" cy="772.8" r="7.9"/><circle cx="345.1" cy="782.1" r="7.9"/><circle cx="286.5" cy="743.5" r="7.9"/><circle cx="261.2" cy="751.3" r="7.9"/><circle cx="271.6" cy="734.7" r="7.9"/><circle cx="256.3" cy="738.4" r="7.9"/><circle cx="372.9" cy="794.3" r="7.9"/><circle cx="408.9" cy="764.5" r="7.9"/><circle cx="315.5" cy="758.5" r="7.9"/><circle cx="376.8" cy="771.5" r="7.9"/><circle cx="466.3" cy="772.5" r="7.9"/><circle cx="237.4" cy="776.5" r="7.9"/><circle cx="383.2" cy="787.0" r="7.9"/><circle cx="324.6" cy="804.8" r="7.9"/><circle cx="378.1" cy="792.4" r="7.9"/><circle cx="293.4" cy="779.6" r="7.9"/><circle cx="396.3" cy="788.6" r="7.9"/><circle cx="278.1" cy="751.2" r="7.9"/><circle cx="381.8" cy="774.5" r="7.9"/><circle cx="316.0" cy="811.2" r="7.9"/><circle cx="458.8" cy="762.7" r="7.9"/><circle cx="342.8" cy="787.3" r="7.9"/><circle cx="407.8" cy="770.5" r="7.9"/><circle cx="377.8" cy="729.9" r="7.9"/><circle cx="275.6" cy="769.9" r="7.9"/><circle cx="308.8" cy="794.7" r="7.9"/><circle cx="292.1" cy="754.8" r="7.9"/><circle cx="245.8" cy="749.6" r="7.9"/><circle cx="365.6" cy="781.6" r="7.9"/><circle cx="273.0" cy="761.9" r="7.9"/><circle cx="346.1" cy="802.0" r="7.9"/><circle cx="118.4" cy="772.3" r="7.9"/><circle cx="244.1" cy="760.0" r="7.9"/><circle cx="327.6" cy="761.3" r="7.9"/><circle cx="261.4" cy="737.3" r="7.9"/><circle cx="338.5" cy="804.5" r="7.9"/><circle cx="362.2" cy="786.7" r="7.9"/><circle cx="406.7" cy="757.9" r="7.9"/><circle cx="389.7" cy="747.0" r="7.9"/><circle cx="357.0" cy="802.9" r="7.9"/><circle cx="171.4" cy="772.1" r="7.9"/><circle cx="332.0" cy="805.8" r="7.9"/><circle cx="310.8" cy="768.8" r="7.9"/><circle cx="263.1" cy="757.0" r="7.9"/><circle cx="165.6" cy="763.1" r="7.9"/><circle cx="420.5" cy="771.8" r="7.9"/><circle cx="238.0" cy="756.0" r="7.9"/><circle cx="435.5" cy="776.0" r="7.9"/><circle cx="374.7" cy="786.9" r="7.9"/><circle cx="450.9" cy="772.9" r="7.9"/><circle cx="213.7" cy="763.8" r="7.9"/><circle cx="426.2" cy="769.0" r="7.9"/><circle cx="323.4" cy="728.2" r="7.9"/><circle cx="122.2" cy="765.3" r="7.9"/><circle cx="373.0" cy="743.0" r="7.9"/><circle cx="342.3" cy="744.8" r="7.9"/><circle cx="363.7" cy="726.3" r="7.9"/><circle cx="338.1" cy="793.8" r="7.9"/><circle cx="303.5" cy="753.6" r="7.9"/><circle cx="318.4" cy="740.3" r="7.9"/><circle cx="364.6" cy="809.1" r="7.9"/><circle cx="365.5" cy="720.9" r="7.9"/><circle cx="347.6" cy="776.2" r="7.9"/><circle cx="345.1" cy="770.8" r="7.9"/><circle cx="296.6" cy="791.6" r="7.9"/><circle cx="324.3" cy="780.7" r="7.9"/><circle cx="415.9" cy="782.2" r="7.9"/><circle cx="342.5" cy="709.5" r="7.9"/><circle cx="314.0" cy="773.4" r="7.9"/><circle cx="361.2" cy="777.7" r="7.9"/><circle cx="370.8" cy="731.6" r="7.9"/><circle cx="339.3" cy="782.0" r="7.9"/><circle cx="358.4" cy="822.4" r="7.9"/><circle cx="330.3" cy="754.6" r="7.9"/><circle cx="161.0" cy="772.1" r="7.9"/><circle cx="355.1" cy="760.3" r="7.9"/><circle cx="314.2" cy="736.0" r="7.9"/><circle cx="272.1" cy="778.7" r="7.9"/><circle cx="378.2" cy="744.9" r="7.9"/><circle cx="250.6" cy="793.5" r="7.9"/><circle cx="370.3" cy="722.7" r="7.9"/><circle cx="336.8" cy="725.4" r="7.9"/><circle cx="276.6" cy="733.3" r="7.9"/><circle cx="290.2" cy="747.0" r="7.9"/><circle cx="351.8" cy="713.5" r="7.9"/><circle cx="376.5" cy="805.0" r="7.9"/><circle cx="310.1" cy="802.0" r="7.9"/><circle cx="393.1" cy="751.1" r="7.9"/><circle cx="218.9" cy="775.8" r="7.9"/><circle cx="366.7" cy="792.3" r="7.9"/><circle cx="255.6" cy="789.8" r="7.9"/><circle cx="262.9" cy="768.4" r="7.9"/><circle cx="342.0" cy="739.0" r="7.9"/><circle cx="406.3" cy="786.0" r="7.9"/><circle cx="270.0" cy="795.1" r="7.9"/><circle cx="336.2" cy="776.5" r="7.9"/><circle cx="292.6" cy="801.7" r="7.9"/><circle cx="285.1" cy="753.4" r="7.9"/><circle cx="255.7" cy="767.9" r="7.9"/><circle cx="318.0" cy="799.2" r="7.9"/><circle cx="271.9" cy="788.3" r="7.9"/><circle cx="155.9" cy="769.9" r="7.9"/><circle cx="367.6" cy="799.7" r="7.9"/><circle cx="383.9" cy="738.4" r="7.9"/><circle cx="192.1" cy="770.0" r="7.9"/><circle cx="367.6" cy="743.9" r="7.9"/><circle cx="371.5" cy="782.2" r="7.9"/><circle cx="347.7" cy="720.6" r="7.9"/><circle cx="420.4" cy="779.5" r="7.9"/><circle cx="221.8" cy="763.2" r="7.9"/><circle cx="255.4" cy="781.1" r="7.9"/><circle cx="343.2" cy="717.4" r="7.9"/><circle cx="286.9" cy="733.2" r="7.9"/><circle cx="328.9" cy="800.7" r="7.9"/><circle cx="246.2" cy="790.7" r="7.9"/><circle cx="292.7" cy="787.0" r="7.9"/><circle cx="407.9" cy="779.8" r="7.9"/><circle cx="248.6" cy="745.3" r="7.9"/><circle cx="324.3" cy="719.2" r="7.9"/><circle cx="328.8" cy="770.6" r="7.9"/><circle cx="336.1" cy="755.1" r="7.9"/><circle cx="318.4" cy="806.0" r="7.9"/><circle cx="140.1" cy="771.2" r="7.9"/><circle cx="362.2" cy="737.4" r="7.9"/><circle cx="301.7" cy="805.0" r="7.9"/><circle cx="330.6" cy="729.6" r="7.9"/><circle cx="311.5" cy="808.4" r="7.9"/><circle cx="329.9" cy="781.9" r="7.9"/><circle cx="416.9" cy="757.1" r="7.9"/><circle cx="325.9" cy="742.5" r="7.9"/><circle cx="324.2" cy="797.1" r="7.9"/><circle cx="287.6" cy="775.7" r="7.9"/><circle cx="298.9" cy="758.9" r="7.9"/><circle cx="397.6" cy="762.4" r="7.9"/><circle cx="401.2" cy="787.0" r="7.9"/><circle cx="350.3" cy="741.1" r="7.9"/><circle cx="287.9" cy="763.0" r="7.9"/><circle cx="342.7" cy="760.3" r="7.9"/><circle cx="315.7" cy="725.0" r="7.9"/><circle cx="295.3" cy="747.0" r="7.9"/><circle cx="159.4" cy="762.9" r="7.9"/><circle cx="348.2" cy="732.1" r="7.9"/><circle cx="133.7" cy="769.8" r="7.9"/><circle cx="177.6" cy="771.5" r="7.9"/><circle cx="279.0" cy="758.2" r="7.9"/><circle cx="336.4" cy="747.4" r="7.9"/><circle cx="284.8" cy="795.2" r="7.9"/><circle cx="385.0" cy="780.7" r="7.9"/><circle cx="180.6" cy="765.3" r="7.9"/><circle cx="343.2" cy="823.0" r="7.9"/><circle cx="327.1" cy="734.4" r="7.9"/><circle cx="260.0" cy="762.6" r="7.9"/><circle cx="328.5" cy="776.6" r="7.9"/><circle cx="420.2" cy="765.7" r="7.9"/><circle cx="242.7" cy="782.5" r="7.9"/><circle cx="434.5" cy="765.3" r="7.9"/><circle cx="363.2" cy="772.6" r="7.9"/><circle cx="260.2" cy="797.3" r="7.9"/><circle cx="379.7" cy="782.2" r="7.9"/><circle cx="373.8" cy="809.4" r="7.9"/><circle cx="310.5" cy="749.0" r="7.9"/><circle cx="318.9" cy="745.9" r="7.9"/><circle cx="298.7" cy="777.4" r="7.9"/><circle cx="205.2" cy="762.6" r="7.9"/><circle cx="337.5" cy="710.8" r="7.9"/><circle cx="307.7" cy="738.2" r="7.9"/><circle cx="387.3" cy="794.0" r="7.9"/><circle cx="205.2" cy="773.6" r="7.9"/><circle cx="264.0" cy="777.7" r="7.9"/><circle cx="370.6" cy="775.9" r="7.9"/><circle cx="332.5" cy="742.4" r="7.9"/><circle cx="265.2" cy="797.2" r="7.9"/><circle cx="270.3" cy="756.7" r="7.9"/><circle cx="298.4" cy="771.7" r="7.9"/><circle cx="196.8" cy="756.8" r="7.9"/><circle cx="136.4" cy="763.2" r="7.9"/><circle cx="403.5" cy="762.5" r="7.9"/><circle cx="353.4" cy="809.4" r="7.9"/><circle cx="296.0" cy="797.3" r="7.9"/><circle cx="123.6" cy="770.9" r="7.9"/><circle cx="248.5" cy="782.6" r="7.9"/><circle cx="387.6" cy="764.3" r="7.9"/><circle cx="320.5" cy="735.1" r="7.9"/><circle cx="303.6" cy="788.7" r="7.9"/><circle cx="294.7" cy="766.4" r="7.9"/><circle cx="449.0" cy="766.1" r="7.9"/><circle cx="324.2" cy="756.0" r="7.9"/><circle cx="268.6" cy="771.2" r="7.9"/><circle cx="316.4" cy="792.7" r="7.9"/><circle cx="430.4" cy="776.9" r="7.9"/><circle cx="374.4" cy="725.9" r="7.9"/><circle cx="211.2" cy="781.6" r="7.9"/><circle cx="352.7" cy="726.0" r="7.9"/><circle cx="198.4" cy="772.9" r="7.9"/><circle cx="130.3" cy="764.4" r="7.9"/><circle cx="342.6" cy="754.6" r="7.9"/><circle cx="286.0" cy="738.4" r="7.9"/><circle cx="304.7" cy="742.3" r="7.9"/><circle cx="331.1" cy="790.9" r="7.9"/><circle cx="279.1" cy="745.7" r="7.9"/><circle cx="392.3" cy="781.9" r="7.9"/><circle cx="456.1" cy="772.1" r="7.9"/><circle cx="355.6" cy="753.4" r="7.9"/><circle cx="297.8" cy="752.6" r="7.9"/><circle cx="232.9" cy="757.2" r="7.9"/><circle cx="438.9" cy="768.0" r="7.9"/><circle cx="348.1" cy="807.1" r="7.9"/><circle cx="278.0" cy="781.7" r="7.9"/><circle cx="340.2" cy="730.6" r="7.9"/><circle cx="330.6" cy="813.9" r="7.9"/><circle cx="222.5" cy="757.2" r="7.9"/><circle cx="382.9" cy="768.7" r="7.9"/><circle cx="333.3" cy="763.8" r="7.9"/><circle cx="207.1" cy="755.0" r="7.9"/><circle cx="315.5" cy="752.3" r="7.9"/><circle cx="333.5" cy="797.2" r="7.9"/><circle cx="334.5" cy="817.3" r="7.9"/><circle cx="348.6" cy="760.8" r="7.9"/><circle cx="321.9" cy="750.6" r="7.9"/><circle cx="298.6" cy="785.0" r="7.9"/><circle cx="336.8" cy="787.0" r="7.9"/><circle cx="389.3" cy="756.6" r="7.9"/><circle cx="349.3" cy="754.7" r="7.9"/><circle cx="357.3" cy="789.7" r="7.9"/><circle cx="469.5" cy="768.6" r="7.9"/><circle cx="386.6" cy="742.8" r="7.9"/><circle cx="315.8" cy="765.3" r="7.9"/><circle cx="193.0" cy="774.9" r="7.9"/><circle cx="453.8" cy="764.0" r="7.9"/><circle cx="396.7" cy="754.8" r="7.9"/><circle cx="200.7" cy="767.1" r="7.9"/><circle cx="193.0" cy="764.4" r="7.9"/><circle cx="318.8" cy="779.8" r="7.9"/><circle cx="300.7" cy="766.3" r="7.9"/><circle cx="248.9" cy="773.7" r="7.9"/><circle cx="215.5" cy="769.8" r="7.9"/><circle cx="242.9" cy="774.7" r="7.9"/><circle cx="201.5" cy="777.7" r="7.9"/><circle cx="208.0" cy="767.9" r="7.9"/><circle cx="358.7" cy="766.0" r="7.9"/><circle cx="371.0" cy="764.0" r="7.9"/><circle cx="313.2" cy="780.3" r="7.9"/><circle cx="339.2" cy="771.5" r="7.9"/><circle cx="425.2" cy="777.6" r="7.9"/><circle cx="270.4" cy="750.3" r="7.9"/><circle cx="375.9" cy="777.7" r="7.9"/><circle cx="316.3" cy="785.6" r="7.9"/><circle cx="234.1" cy="768.7" r="7.9"/><circle cx="340.8" cy="799.2" r="7.9"/><circle cx="221.6" cy="781.8" r="7.9"/><circle cx="262.4" cy="783.1" r="7.9"/><circle cx="301.8" cy="798.2" r="7.9"/><circle cx="432.7" cy="770.8" r="7.9"/><circle cx="444.0" cy="767.5" r="7.9"/><circle cx="365.8" cy="762.1" r="7.9"/><circle cx="305.8" cy="772.4" r="7.9"/><circle cx="284.7" cy="789.6" r="7.9"/><circle cx="322.3" cy="773.3" r="7.9"/><circle cx="353.4" cy="823.9" r="7.9"/><circle cx="356.1" cy="716.5" r="7.9"/><circle cx="332.8" cy="713.2" r="7.9"/><circle cx="351.1" cy="766.7" r="7.9"/><circle cx="279.9" cy="793.5" r="7.9"/><circle cx="333.6" cy="735.6" r="7.9"/><circle cx="201.9" cy="755.8" r="7.9"/><circle cx="353.0" cy="735.8" r="7.9"/><circle cx="395.3" cy="776.0" r="7.9"/><circle cx="267.4" cy="763.2" r="7.9"/><circle cx="325.8" cy="812.1" r="7.9"/><circle cx="231.6" cy="762.9" r="7.9"/><circle cx="359.0" cy="811.0" r="7.9"/><circle cx="320.2" cy="722.3" r="7.9"/><circle cx="340.4" cy="765.8" r="7.9"/><circle cx="255.1" cy="796.2" r="7.9"/><circle cx="185.6" cy="772.4" r="7.9"/><circle cx="274.8" cy="793.1" r="7.9"/><circle cx="108.5" cy="766.5" r="7.9"/><circle cx="284.6" cy="783.6" r="7.9"/><circle cx="376.4" cy="763.1" r="7.9"/><circle cx="254.2" cy="760.3" r="7.9"/><circle cx="414.5" cy="765.6" r="7.9"/><circle cx="363.3" cy="820.6" r="7.9"/><circle cx="146.8" cy="772.2" r="7.9"/><circle cx="193.0" cy="769.6" r="7.9"/><circle cx="367.9" cy="736.8" r="7.9"/><circle cx="232.3" cy="779.5" r="7.9"/><circle cx="352.2" cy="798.2" r="7.9"/><circle cx="328.2" cy="748.7" r="7.9"/><circle cx="370.5" cy="769.7" r="7.9"/><circle cx="354.0" cy="778.9" r="7.9"/><circle cx="304.1" cy="779.1" r="7.9"/><circle cx="259.3" cy="745.7" r="7.9"/><circle cx="361.5" cy="752.5" r="7.9"/><circle cx="426.8" cy="758.4" r="7.9"/><circle cx="241.3" cy="788.8" r="7.9"/><circle cx="236.4" cy="786.9" r="7.9"/><circle cx="269.8" cy="744.8" r="7.9"/><circle cx="264.8" cy="791.3" r="7.9"/><circle cx="360.4" cy="719.4" r="7.9"/><circle cx="391.2" cy="772.0" r="7.9"/><circle cx="348.8" cy="813.3" r="7.9"/><circle cx="362.8" cy="802.9" r="7.9"/><circle cx="247.6" cy="765.4" r="7.9"/><circle cx="142.5" cy="763.2" r="7.9"/><circle cx="401.6" cy="756.5" r="7.9"/><circle cx="343.9" cy="724.8" r="7.9"/><circle cx="253.2" cy="753.0" r="7.9"/><circle cx="309.3" cy="733.3" r="7.9"/><circle cx="363.4" cy="747.3" r="7.9"/><circle cx="224.4" cy="768.1" r="7.9"/><circle cx="252.3" cy="741.5" r="7.9"/><circle cx="312.5" cy="729.1" r="7.9"/><circle cx="362.4" cy="757.9" r="7.9"/><circle cx="421.9" cy="756.6" r="7.9"/><circle cx="398.8" cy="771.4" r="7.9"/><circle cx="227.7" cy="757.2" r="7.9"/><circle cx="337.6" cy="716.3" r="7.9"/><circle cx="331.5" cy="721.5" r="7.9"/><circle cx="414.7" cy="771.9" r="7.9"/><circle cx="338.5" cy="820.7" r="7.9"/><circle cx="356.4" cy="747.2" r="7.9"/><circle cx="328.4" cy="715.8" r="7.9"/><circle cx="279.0" cy="787.7" r="7.9"/><circle cx="212.2" cy="755.1" r="7.9"/><circle cx="257.9" cy="774.6" r="7.9"/><circle cx="445.8" cy="773.9" r="7.9"/><circle cx="289.5" cy="797.4" r="7.9"/><circle cx="323.6" cy="789.3" r="7.9"/><circle cx="343.8" cy="793.1" r="7.9"/><circle cx="382.8" cy="796.7" r="7.9"/><circle cx="371.2" cy="814.0" r="7.9"/><circle cx="343.3" cy="816.2" r="7.9"/><circle cx="380.6" cy="759.7" r="7.9"/><circle cx="411.5" cy="785.0" r="7.9"/><circle cx="373.9" cy="736.4" r="7.9"/><circle cx="173.4" cy="765.4" r="7.9"/></g>
<g fill="url(#gr)"><circle cx="582.3" cy="911.3" r="7.9"/><circle cx="345.7" cy="928.5" r="7.9"/><circle cx="238.2" cy="917.1" r="7.9"/><circle cx="196.9" cy="918.9" r="7.9"/><circle cx="360.2" cy="860.1" r="7.9"/><circle cx="468.3" cy="912.2" r="7.9"/><circle cx="375.6" cy="885.2" r="7.9"/><circle cx="164.7" cy="909.0" r="7.9"/><circle cx="214.9" cy="929.7" r="7.9"/><circle cx="533.0" cy="913.2" r="7.9"/><circle cx="372.4" cy="918.2" r="7.9"/><circle cx="263.3" cy="913.5" r="7.9"/><circle cx="329.6" cy="859.7" r="7.9"/><circle cx="453.8" cy="903.5" r="7.9"/><circle cx="348.6" cy="974.0" r="7.9"/><circle cx="220.2" cy="911.7" r="7.9"/><circle cx="352.5" cy="881.3" r="7.9"/><circle cx="343.0" cy="900.6" r="7.9"/><circle cx="343.3" cy="907.9" r="7.9"/><circle cx="353.5" cy="865.3" r="7.9"/><circle cx="348.6" cy="921.9" r="7.9"/><circle cx="157.5" cy="912.6" r="7.9"/><circle cx="250.8" cy="924.9" r="7.9"/><circle cx="320.7" cy="886.6" r="7.9"/><circle cx="274.4" cy="924.5" r="7.9"/><circle cx="366.0" cy="952.8" r="7.9"/><circle cx="358.3" cy="912.2" r="7.9"/><circle cx="286.6" cy="920.7" r="7.9"/><circle cx="350.5" cy="956.6" r="7.9"/><circle cx="366.8" cy="888.6" r="7.9"/><circle cx="367.9" cy="881.3" r="7.9"/><circle cx="377.6" cy="904.5" r="7.9"/><circle cx="220.2" cy="893.8" r="7.9"/><circle cx="368.8" cy="898.2" r="7.9"/><circle cx="343.3" cy="916.6" r="7.9"/><circle cx="272.2" cy="910.0" r="7.9"/><circle cx="324.2" cy="866.9" r="7.9"/><circle cx="375.6" cy="896.8" r="7.9"/><circle cx="352.5" cy="902.6" r="7.9"/><circle cx="377.3" cy="868.0" r="7.9"/><circle cx="437.4" cy="912.2" r="7.9"/><circle cx="329.6" cy="940.4" r="7.9"/><circle cx="366.0" cy="904.5" r="7.9"/><circle cx="348.6" cy="860.1" r="7.9"/><circle cx="270.4" cy="897.4" r="7.9"/><circle cx="313.5" cy="904.6" r="7.9"/><circle cx="387.2" cy="931.5" r="7.9"/><circle cx="152.1" cy="908.1" r="7.9"/><circle cx="204.1" cy="893.8" r="7.9"/><circle cx="315.3" cy="927.9" r="7.9"/><circle cx="379.1" cy="926.5" r="7.9"/><circle cx="503.1" cy="914.2" r="7.9"/><circle cx="300.9" cy="918.9" r="7.9"/><circle cx="146.7" cy="912.6" r="7.9"/><circle cx="402.7" cy="891.0" r="7.9"/><circle cx="219.8" cy="903.1" r="7.9"/><circle cx="168.2" cy="909.9" r="7.9"/><circle cx="376.3" cy="911.9" r="7.9"/><circle cx="368.2" cy="858.3" r="7.9"/><circle cx="348.6" cy="912.2" r="7.9"/><circle cx="352.5" cy="941.2" r="7.9"/><circle cx="223.8" cy="918.9" r="7.9"/><circle cx="337.0" cy="966.3" r="7.9"/><circle cx="353.1" cy="928.4" r="7.9"/><circle cx="329.6" cy="956.5" r="7.9"/><circle cx="325.4" cy="892.9" r="7.9"/><circle cx="196.9" cy="897.4" r="7.9"/><circle cx="369.1" cy="850.9" r="7.9"/><circle cx="252.5" cy="910.0" r="7.9"/><circle cx="261.5" cy="927.9" r="7.9"/><circle cx="512.7" cy="907.4" r="7.9"/><circle cx="422.0" cy="896.8" r="7.9"/><circle cx="254.3" cy="917.1" r="7.9"/><circle cx="358.3" cy="845.6" r="7.9"/><circle cx="347.2" cy="885.7" r="7.9"/><circle cx="476.1" cy="907.4" r="7.9"/><circle cx="364.1" cy="972.1" r="7.9"/><circle cx="348.6" cy="892.9" r="7.9"/><circle cx="355.0" cy="874.7" r="7.9"/><circle cx="363.6" cy="875.5" r="7.9"/><circle cx="323.5" cy="867.8" r="7.9"/><circle cx="398.8" cy="914.2" r="7.9"/><circle cx="255.5" cy="900.9" r="7.9"/><circle cx="377.6" cy="875.5" r="7.9"/><circle cx="429.7" cy="925.8" r="7.9"/><circle cx="420.1" cy="918.0" r="7.9"/><circle cx="211.3" cy="897.4" r="7.9"/><circle cx="379.5" cy="918.0" r="7.9"/><circle cx="393.0" cy="882.3" r="7.9"/><circle cx="306.3" cy="884.8" r="7.9"/><circle cx="371.8" cy="925.8" r="7.9"/><circle cx="239.2" cy="895.5" r="7.9"/><circle cx="185.3" cy="909.0" r="7.9"/><circle cx="229.2" cy="899.2" r="7.9"/><circle cx="360.0" cy="926.1" r="7.9"/><circle cx="333.2" cy="896.8" r="7.9"/><circle cx="367.9" cy="912.2" r="7.9"/><circle cx="207.7" cy="908.1" r="7.9"/><circle cx="343.2" cy="879.3" r="7.9"/><circle cx="236.4" cy="911.7" r="7.9"/><circle cx="299.1" cy="926.1" r="7.9"/><circle cx="333.2" cy="941.2" r="7.9"/><circle cx="366.0" cy="929.6" r="7.9"/><circle cx="288.4" cy="895.6" r="7.9"/><circle cx="355.6" cy="854.6" r="7.9"/><circle cx="433.6" cy="908.4" r="7.9"/><circle cx="315.3" cy="874.1" r="7.9"/><circle cx="418.1" cy="891.0" r="7.9"/><circle cx="455.8" cy="915.1" r="7.9"/><circle cx="531.0" cy="913.2" r="7.9"/><circle cx="265.1" cy="893.8" r="7.9"/><circle cx="331.2" cy="861.1" r="7.9"/><circle cx="362.1" cy="851.4" r="7.9"/><circle cx="398.8" cy="906.4" r="7.9"/><circle cx="377.6" cy="933.5" r="7.9"/><circle cx="356.3" cy="966.3" r="7.9"/><circle cx="359.4" cy="901.6" r="7.9"/><circle cx="205.3" cy="924.7" r="7.9"/><circle cx="339.0" cy="962.4" r="7.9"/><circle cx="402.7" cy="921.9" r="7.9"/><circle cx="347.6" cy="852.3" r="7.9"/><circle cx="357.4" cy="886.1" r="7.9"/><circle cx="360.2" cy="918.0" r="7.9"/><circle cx="299.1" cy="888.4" r="7.9"/><circle cx="406.5" cy="900.6" r="7.9"/><circle cx="214.9" cy="924.3" r="7.9"/><circle cx="232.8" cy="927.9" r="7.9"/><circle cx="331.2" cy="956.6" r="7.9"/><circle cx="485.7" cy="916.1" r="7.9"/><circle cx="88.4" cy="911.7" r="7.9"/><circle cx="281.2" cy="917.1" r="7.9"/><circle cx="375.6" cy="860.1" r="7.9"/><circle cx="366.0" cy="921.8" r="7.9"/><circle cx="364.1" cy="943.1" r="7.9"/><circle cx="364.1" cy="865.9" r="7.9"/><circle cx="380.5" cy="950.9" r="7.9"/><circle cx="196.6" cy="907.4" r="7.9"/><circle cx="317.7" cy="883.3" r="7.9"/><circle cx="412.3" cy="910.3" r="7.9"/><circle cx="211.3" cy="917.1" r="7.9"/><circle cx="346.7" cy="867.8" r="7.9"/><circle cx="331.2" cy="925.8" r="7.9"/><circle cx="264.7" cy="904.4" r="7.9"/><circle cx="370.6" cy="871.4" r="7.9"/><circle cx="360.2" cy="892.9" r="7.9"/><circle cx="204.1" cy="911.7" r="7.9"/><circle cx="311.7" cy="895.6" r="7.9"/><circle cx="410.4" cy="923.8" r="7.9"/></g>
<g fill="url(#gt)"><circle cx="366.2" cy="1108.8" r="7.9"/><circle cx="374.3" cy="1106.2" r="7.9"/><circle cx="333.3" cy="1129.7" r="7.9"/><circle cx="311.6" cy="1111.2" r="7.9"/><circle cx="362.6" cy="1114.9" r="7.9"/><circle cx="331.5" cy="1138.8" r="7.9"/><circle cx="416.1" cy="1099.2" r="7.9"/><circle cx="316.7" cy="1094.8" r="7.9"/><circle cx="376.5" cy="1122.4" r="7.9"/><circle cx="335.1" cy="1098.6" r="7.9"/><circle cx="396.4" cy="1099.2" r="7.9"/><circle cx="371.5" cy="1125.3" r="7.9"/><circle cx="481.0" cy="1101.9" r="7.9"/><circle cx="414.3" cy="1090.2" r="7.9"/><circle cx="381.7" cy="1110.7" r="7.9"/><circle cx="346.4" cy="1061.0" r="7.9"/><circle cx="446.6" cy="1101.0" r="7.9"/><circle cx="354.2" cy="1140.4" r="7.9"/><circle cx="319.2" cy="1103.6" r="7.9"/><circle cx="383.2" cy="1104.1" r="7.9"/><circle cx="327.5" cy="1102.2" r="7.9"/><circle cx="460.9" cy="1101.0" r="7.9"/><circle cx="379.3" cy="1098.5" r="7.9"/><circle cx="362.6" cy="1132.6" r="7.9"/><circle cx="323.3" cy="1123.8" r="7.9"/><circle cx="315.2" cy="1115.6" r="7.9"/><circle cx="323.4" cy="1096.3" r="7.9"/><circle cx="409.0" cy="1111.7" r="7.9"/><circle cx="320.5" cy="1090.7" r="7.9"/><circle cx="330.1" cy="1111.8" r="7.9"/><circle cx="362.5" cy="1093.0" r="7.9"/><circle cx="329.2" cy="1084.3" r="7.9"/><circle cx="348.2" cy="1135.8" r="7.9"/><circle cx="359.6" cy="1120.3" r="7.9"/><circle cx="341.6" cy="1084.9" r="7.9"/><circle cx="385.7" cy="1115.8" r="7.9"/><circle cx="311.2" cy="1096.3" r="7.9"/><circle cx="310.8" cy="1105.0" r="7.9"/><circle cx="342.6" cy="1092.6" r="7.9"/><circle cx="340.4" cy="1146.2" r="7.9"/><circle cx="359.6" cy="1127.3" r="7.9"/><circle cx="368.9" cy="1119.8" r="7.9"/><circle cx="337.1" cy="1061.4" r="7.9"/><circle cx="336.4" cy="1091.1" r="7.9"/><circle cx="435.0" cy="1108.0" r="7.9"/><circle cx="371.3" cy="1112.4" r="7.9"/><circle cx="351.2" cy="1086.9" r="7.9"/><circle cx="400.0" cy="1104.0" r="7.9"/><circle cx="373.2" cy="1088.3" r="7.9"/><circle cx="420.0" cy="1110.0" r="7.9"/><circle cx="320.4" cy="1110.0" r="7.9"/><circle cx="432.2" cy="1099.2" r="7.9"/><circle cx="300.0" cy="1100.0" r="7.9"/><circle cx="338.3" cy="1069.5" r="7.9"/><circle cx="345.2" cy="1070.2" r="7.9"/><circle cx="288.0" cy="1097.0" r="7.9"/><circle cx="336.0" cy="1082.3" r="7.9"/><circle cx="426.9" cy="1106.3" r="7.9"/><circle cx="244.9" cy="1101.9" r="7.9"/><circle cx="347.2" cy="1082.2" r="7.9"/><circle cx="358.2" cy="1136.4" r="7.9"/><circle cx="325.6" cy="1118.2" r="7.9"/><circle cx="381.5" cy="1119.6" r="7.9"/><circle cx="367.0" cy="1128.9" r="7.9"/><circle cx="425.1" cy="1093.8" r="7.9"/><circle cx="378.9" cy="1089.3" r="7.9"/><circle cx="354.5" cy="1124.0" r="7.9"/><circle cx="292.4" cy="1104.6" r="7.9"/><circle cx="389.0" cy="1099.8" r="7.9"/><circle cx="326.0" cy="1074.5" r="7.9"/><circle cx="403.5" cy="1093.8" r="7.9"/><circle cx="396.4" cy="1111.7" r="7.9"/><circle cx="305.6" cy="1097.7" r="7.9"/><circle cx="341.7" cy="1107.9" r="7.9"/><circle cx="462.7" cy="1104.6" r="7.9"/><circle cx="353.0" cy="1079.9" r="7.9"/><circle cx="339.6" cy="1131.7" r="7.9"/><circle cx="360.0" cy="1109.2" r="7.9"/><circle cx="356.4" cy="1066.2" r="7.9"/><circle cx="288.8" cy="1101.0" r="7.9"/><circle cx="328.7" cy="1133.9" r="7.9"/><circle cx="332.9" cy="1123.1" r="7.9"/><circle cx="343.2" cy="1139.3" r="7.9"/><circle cx="362.6" cy="1075.9" r="7.9"/><circle cx="343.2" cy="1114.3" r="7.9"/><circle cx="349.1" cy="1126.9" r="7.9"/><circle cx="388.0" cy="1108.0" r="7.9"/><circle cx="348.6" cy="1093.0" r="7.9"/><circle cx="279.0" cy="1105.0" r="7.9"/><circle cx="319.3" cy="1119.8" r="7.9"/><circle cx="443.0" cy="1095.6" r="7.9"/><circle cx="333.0" cy="1065.3" r="7.9"/><circle cx="376.2" cy="1116.2" r="7.9"/><circle cx="345.8" cy="1098.7" r="7.9"/><circle cx="334.6" cy="1076.5" r="7.9"/><circle cx="482.5" cy="1101.9" r="7.9"/><circle cx="326.4" cy="1128.6" r="7.9"/><circle cx="353.1" cy="1131.9" r="7.9"/><circle cx="335.9" cy="1142.5" r="7.9"/><circle cx="358.9" cy="1081.5" r="7.9"/><circle cx="323.4" cy="1079.6" r="7.9"/><circle cx="337.2" cy="1113.4" r="7.9"/><circle cx="378.4" cy="1084.8" r="7.9"/><circle cx="359.6" cy="1071.0" r="7.9"/><circle cx="372.2" cy="1098.6" r="7.9"/><circle cx="351.3" cy="1113.1" r="7.9"/><circle cx="321.7" cy="1085.0" r="7.9"/><circle cx="368.5" cy="1093.9" r="7.9"/><circle cx="349.2" cy="1107.0" r="7.9"/><circle cx="389.0" cy="1105.5" r="7.9"/><circle cx="349.8" cy="1119.5" r="7.9"/><circle cx="356.9" cy="1089.0" r="7.9"/><circle cx="350.1" cy="1144.5" r="7.9"/><circle cx="453.8" cy="1093.8" r="7.9"/><circle cx="383.8" cy="1093.8" r="7.9"/><circle cx="351.4" cy="1063.6" r="7.9"/><circle cx="277.0" cy="1100.0" r="7.9"/><circle cx="304.5" cy="1103.4" r="7.9"/><circle cx="355.9" cy="1102.7" r="7.9"/><circle cx="365.0" cy="1102.6" r="7.9"/><circle cx="329.3" cy="1069.8" r="7.9"/><circle cx="439.4" cy="1102.8" r="7.9"/><circle cx="344.3" cy="1076.4" r="7.9"/><circle cx="342.9" cy="1121.6" r="7.9"/><circle cx="389.0" cy="1094.0" r="7.9"/><circle cx="365.2" cy="1081.0" r="7.9"/><circle cx="262.8" cy="1102.8" r="7.9"/><circle cx="392.8" cy="1088.4" r="7.9"/><circle cx="355.7" cy="1096.0" r="7.9"/><circle cx="368.0" cy="1086.0" r="7.9"/><circle cx="384.3" cy="1091.1" r="7.9"/><circle cx="352.9" cy="1073.3" r="7.9"/><circle cx="389.0" cy="1111.3" r="7.9"/><circle cx="329.4" cy="1090.8" r="7.9"/><circle cx="334.3" cy="1107.5" r="7.9"/><circle cx="450.2" cy="1104.6" r="7.9"/><circle cx="407.1" cy="1108.1" r="7.9"/></g>
<g fill="url(#gr)"><circle cx="363.7" cy="1227.4" r="7.9"/><circle cx="341.4" cy="1216.4" r="7.9"/><circle cx="333.0" cy="1195.5" r="7.9"/><circle cx="278.4" cy="1237.7" r="7.9"/><circle cx="342.4" cy="1252.0" r="7.9"/><circle cx="314.1" cy="1249.6" r="7.9"/><circle cx="323.6" cy="1240.0" r="7.9"/><circle cx="378.4" cy="1243.0" r="7.9"/><circle cx="298.2" cy="1241.6" r="7.9"/><circle cx="222.1" cy="1245.6" r="7.9"/><circle cx="376.0" cy="1265.4" r="7.9"/><circle cx="359.3" cy="1279.3" r="7.9"/><circle cx="361.7" cy="1286.0" r="7.9"/><circle cx="330.0" cy="1270.2" r="7.9"/><circle cx="424.7" cy="1244.0" r="7.9"/><circle cx="358.2" cy="1255.5" r="7.9"/><circle cx="352.2" cy="1225.8" r="7.9"/><circle cx="425.5" cy="1244.5" r="7.9"/><circle cx="371.2" cy="1219.4" r="7.9"/><circle cx="324.2" cy="1251.0" r="7.9"/><circle cx="355.4" cy="1286.0" r="7.9"/><circle cx="491.4" cy="1245.4" r="7.9"/><circle cx="510.0" cy="1249.0" r="7.9"/><circle cx="315.7" cy="1241.6" r="7.9"/><circle cx="188.0" cy="1244.8" r="7.9"/><circle cx="337.9" cy="1246.4" r="7.9"/><circle cx="342.7" cy="1235.3" r="7.9"/><circle cx="345.8" cy="1190.1" r="7.9"/><circle cx="331.6" cy="1217.8" r="7.9"/><circle cx="322.0" cy="1262.2" r="7.9"/><circle cx="377.6" cy="1251.1" r="7.9"/><circle cx="333.1" cy="1203.6" r="7.9"/><circle cx="342.7" cy="1309.8" r="7.9"/><circle cx="457.0" cy="1246.0" r="7.9"/><circle cx="279.2" cy="1251.1" r="7.9"/><circle cx="371.2" cy="1232.1" r="7.9"/><circle cx="441.7" cy="1250.0" r="7.9"/><circle cx="387.1" cy="1257.5" r="7.9"/><circle cx="301.4" cy="1240.0" r="7.9"/><circle cx="337.9" cy="1300.3" r="7.9"/><circle cx="334.1" cy="1236.6" r="7.9"/><circle cx="349.0" cy="1254.9" r="7.9"/><circle cx="410.7" cy="1247.6" r="7.9"/><circle cx="519.0" cy="1249.0" r="7.9"/><circle cx="331.6" cy="1211.5" r="7.9"/><circle cx="351.3" cy="1202.2" r="7.9"/><circle cx="363.3" cy="1249.6" r="7.9"/><circle cx="344.3" cy="1202.0" r="7.9"/><circle cx="358.5" cy="1205.1" r="7.9"/><circle cx="385.5" cy="1238.5" r="7.9"/><circle cx="357.6" cy="1294.4" r="7.9"/><circle cx="350.6" cy="1263.8" r="7.9"/><circle cx="388.7" cy="1243.2" r="7.9"/><circle cx="339.5" cy="1289.2" r="7.9"/><circle cx="401.4" cy="1247.6" r="7.9"/><circle cx="350.6" cy="1214.7" r="7.9"/><circle cx="377.9" cy="1228.5" r="7.9"/><circle cx="292.7" cy="1251.1" r="7.9"/><circle cx="361.7" cy="1216.2" r="7.9"/><circle cx="395.0" cy="1240.0" r="7.9"/><circle cx="353.6" cy="1235.0" r="7.9"/><circle cx="371.2" cy="1246.4" r="7.9"/><circle cx="450.0" cy="1248.0" r="7.9"/><circle cx="352.4" cy="1247.9" r="7.9"/><circle cx="295.1" cy="1249.6" r="7.9"/><circle cx="347.4" cy="1309.8" r="7.9"/><circle cx="392.0" cy="1250.0" r="7.9"/><circle cx="358.6" cy="1303.0" r="7.9"/><circle cx="333.1" cy="1295.6" r="7.9"/><circle cx="326.8" cy="1243.2" r="7.9"/><circle cx="294.3" cy="1240.0" r="7.9"/><circle cx="371.2" cy="1262.2" r="7.9"/><circle cx="355.2" cy="1196.2" r="7.9"/><circle cx="333.1" cy="1278.1" r="7.9"/><circle cx="350.6" cy="1301.9" r="7.9"/><circle cx="357.5" cy="1242.1" r="7.9"/><circle cx="346.4" cy="1270.7" r="7.9"/><circle cx="345.8" cy="1227.3" r="7.9"/><circle cx="364.3" cy="1235.2" r="7.9"/><circle cx="344.3" cy="1278.1" r="7.9"/><circle cx="344.9" cy="1244.3" r="7.9"/><circle cx="331.6" cy="1257.5" r="7.9"/><circle cx="276.0" cy="1249.6" r="7.9"/><circle cx="352.2" cy="1278.1" r="7.9"/><circle cx="336.3" cy="1228.9" r="7.9"/><circle cx="356.5" cy="1272.6" r="7.9"/><circle cx="344.3" cy="1303.5" r="7.9"/><circle cx="333.1" cy="1252.7" r="7.9"/><circle cx="350.6" cy="1294.0" r="7.9"/><circle cx="350.6" cy="1190.9" r="7.9"/><circle cx="174.2" cy="1245.6" r="7.9"/><circle cx="358.5" cy="1263.8" r="7.9"/><circle cx="344.4" cy="1209.3" r="7.9"/><circle cx="343.6" cy="1295.4" r="7.9"/><circle cx="347.3" cy="1285.6" r="7.9"/><circle cx="338.8" cy="1272.7" r="7.9"/><circle cx="325.2" cy="1270.2" r="7.9"/><circle cx="339.5" cy="1263.8" r="7.9"/></g>
<g fill="url(#gt)"><circle cx="1150.6" cy="435.7" r="7.9"/><circle cx="1038.9" cy="417.6" r="7.9"/><circle cx="1090.7" cy="417.1" r="7.9"/><circle cx="1024.9" cy="443.2" r="7.9"/><circle cx="1070.9" cy="409.0" r="7.9"/><circle cx="1000.8" cy="434.5" r="7.9"/><circle cx="987.2" cy="426.9" r="7.9"/><circle cx="1045.2" cy="414.3" r="7.9"/><circle cx="1090.9" cy="426.9" r="7.9"/><circle cx="1028.1" cy="407.8" r="7.9"/><circle cx="1049.9" cy="470.2" r="7.9"/><circle cx="1027.7" cy="427.8" r="7.9"/><circle cx="1017.3" cy="439.8" r="7.9"/><circle cx="1031.8" cy="465.3" r="7.9"/><circle cx="1045.9" cy="454.4" r="7.9"/><circle cx="1062.9" cy="456.0" r="7.9"/><circle cx="995.0" cy="419.2" r="7.9"/><circle cx="1041.3" cy="433.7" r="7.9"/><circle cx="1027.8" cy="459.9" r="7.9"/><circle cx="1075.6" cy="414.7" r="7.9"/><circle cx="1053.8" cy="416.5" r="7.9"/><circle cx="1081.0" cy="437.8" r="7.9"/><circle cx="1108.1" cy="420.6" r="7.9"/><circle cx="1028.9" cy="417.2" r="7.9"/><circle cx="1139.0" cy="430.9" r="7.9"/><circle cx="1068.2" cy="466.8" r="7.9"/><circle cx="1075.2" cy="421.4" r="7.9"/><circle cx="1015.9" cy="453.6" r="7.9"/><circle cx="1093.5" cy="450.6" r="7.9"/><circle cx="1114.2" cy="422.1" r="7.9"/><circle cx="1041.4" cy="394.4" r="7.9"/><circle cx="1086.2" cy="433.0" r="7.9"/><circle cx="1044.5" cy="448.0" r="7.9"/><circle cx="1096.3" cy="445.0" r="7.9"/><circle cx="1048.1" cy="420.5" r="7.9"/><circle cx="999.6" cy="415.1" r="7.9"/><circle cx="1021.9" cy="393.2" r="7.9"/><circle cx="938.0" cy="428.0" r="7.9"/><circle cx="1158.0" cy="433.0" r="7.9"/><circle cx="1232.6" cy="429.9" r="7.9"/><circle cx="1126.0" cy="430.0" r="7.9"/><circle cx="1078.7" cy="453.8" r="7.9"/><circle cx="1008.3" cy="444.2" r="7.9"/><circle cx="1032.0" cy="446.8" r="7.9"/><circle cx="982.6" cy="420.3" r="7.9"/><circle cx="1065.6" cy="421.5" r="7.9"/><circle cx="1033.1" cy="388.1" r="7.9"/><circle cx="1101.1" cy="441.3" r="7.9"/><circle cx="1043.7" cy="470.6" r="7.9"/><circle cx="1056.8" cy="398.1" r="7.9"/><circle cx="974.5" cy="430.3" r="7.9"/><circle cx="1074.4" cy="448.8" r="7.9"/><circle cx="1056.8" cy="391.1" r="7.9"/><circle cx="1094.2" cy="408.5" r="7.9"/><circle cx="1050.8" cy="458.7" r="7.9"/><circle cx="1032.7" cy="403.2" r="7.9"/><circle cx="1145.0" cy="433.0" r="7.9"/><circle cx="1020.2" cy="415.9" r="7.9"/><circle cx="1118.0" cy="434.8" r="7.9"/><circle cx="1097.4" cy="435.1" r="7.9"/><circle cx="1064.5" cy="398.0" r="7.9"/><circle cx="1002.3" cy="442.5" r="7.9"/><circle cx="1041.7" cy="408.8" r="7.9"/><circle cx="1062.1" cy="467.8" r="7.9"/><circle cx="1039.2" cy="400.9" r="7.9"/><circle cx="1031.6" cy="471.8" r="7.9"/><circle cx="1040.7" cy="463.2" r="7.9"/><circle cx="1048.0" cy="433.8" r="7.9"/><circle cx="1013.1" cy="447.9" r="7.9"/><circle cx="1121.6" cy="422.2" r="7.9"/><circle cx="1084.2" cy="423.6" r="7.9"/><circle cx="962.3" cy="432.5" r="7.9"/><circle cx="985.9" cy="433.5" r="7.9"/><circle cx="1016.6" cy="432.3" r="7.9"/><circle cx="1080.0" cy="463.2" r="7.9"/><circle cx="1079.2" cy="397.3" r="7.9"/><circle cx="996.6" cy="426.0" r="7.9"/><circle cx="1113.1" cy="438.6" r="7.9"/><circle cx="1012.2" cy="401.2" r="7.9"/><circle cx="1122.2" cy="430.5" r="7.9"/><circle cx="1063.5" cy="405.8" r="7.9"/><circle cx="1234.6" cy="429.9" r="7.9"/><circle cx="1080.6" cy="445.7" r="7.9"/><circle cx="948.1" cy="425.9" r="7.9"/><circle cx="1044.5" cy="427.8" r="7.9"/><circle cx="1050.9" cy="407.3" r="7.9"/><circle cx="1100.0" cy="424.8" r="7.9"/><circle cx="1204.6" cy="428.0" r="7.9"/><circle cx="971.2" cy="425.3" r="7.9"/><circle cx="991.2" cy="436.9" r="7.9"/><circle cx="1034.6" cy="457.7" r="7.9"/><circle cx="943.9" cy="430.0" r="7.9"/><circle cx="1068.4" cy="391.1" r="7.9"/><circle cx="1111.9" cy="428.9" r="7.9"/><circle cx="1196.9" cy="430.9" r="7.9"/><circle cx="1113.9" cy="440.6" r="7.9"/><circle cx="1045.3" cy="386.4" r="7.9"/><circle cx="1089.1" cy="404.9" r="7.9"/><circle cx="996.6" cy="440.0" r="7.9"/><circle cx="1167.9" cy="431.9" r="7.9"/><circle cx="955.0" cy="430.0" r="7.9"/><circle cx="1012.3" cy="413.1" r="7.9"/><circle cx="1022.3" cy="464.3" r="7.9"/><circle cx="1037.7" cy="451.2" r="7.9"/><circle cx="1150.6" cy="430.9" r="7.9"/><circle cx="1064.1" cy="443.6" r="7.9"/><circle cx="963.0" cy="431.0" r="7.9"/><circle cx="1007.7" cy="405.5" r="7.9"/><circle cx="1004.5" cy="428.6" r="7.9"/><circle cx="1078.3" cy="407.6" r="7.9"/><circle cx="976.6" cy="422.2" r="7.9"/><circle cx="1107.3" cy="440.6" r="7.9"/><circle cx="1137.0" cy="435.7" r="7.9"/><circle cx="1023.2" cy="435.6" r="7.9"/><circle cx="1102.7" cy="417.6" r="7.9"/><circle cx="988.8" cy="419.9" r="7.9"/><circle cx="1098.7" cy="412.9" r="7.9"/><circle cx="1037.7" cy="472.3" r="7.9"/><circle cx="1057.3" cy="459.3" r="7.9"/><circle cx="1073.6" cy="394.5" r="7.9"/><circle cx="1132.2" cy="430.9" r="7.9"/><circle cx="1051.1" cy="388.4" r="7.9"/><circle cx="1033.1" cy="435.4" r="7.9"/><circle cx="1065.3" cy="434.1" r="7.9"/><circle cx="1040.4" cy="441.8" r="7.9"/><circle cx="1032.1" cy="395.6" r="7.9"/><circle cx="1039.1" cy="386.6" r="7.9"/><circle cx="1017.0" cy="397.2" r="7.9"/><circle cx="1105.3" cy="429.1" r="7.9"/><circle cx="1052.7" cy="438.7" r="7.9"/><circle cx="1013.0" cy="425.7" r="7.9"/><circle cx="1074.4" cy="466.0" r="7.9"/><circle cx="945.0" cy="427.0" r="7.9"/><circle cx="1166.0" cy="426.1" r="7.9"/><circle cx="1172.8" cy="432.8" r="7.9"/><circle cx="1047.1" cy="442.0" r="7.9"/><circle cx="1071.2" cy="456.6" r="7.9"/><circle cx="1019.0" cy="459.0" r="7.9"/><circle cx="1054.0" cy="428.0" r="7.9"/><circle cx="1038.4" cy="425.1" r="7.9"/><circle cx="1023.8" cy="401.0" r="7.9"/><circle cx="1084.1" cy="458.5" r="7.9"/><circle cx="1069.2" cy="402.5" r="7.9"/><circle cx="937.0" cy="428.0" r="7.9"/><circle cx="1019.5" cy="424.5" r="7.9"/><circle cx="1062.2" cy="415.1" r="7.9"/><circle cx="1059.2" cy="439.3" r="7.9"/><circle cx="1005.1" cy="419.7" r="7.9"/><circle cx="980.7" cy="430.2" r="7.9"/><circle cx="1027.1" cy="390.0" r="7.9"/><circle cx="1023.5" cy="452.9" r="7.9"/><circle cx="1007.8" cy="436.2" r="7.9"/><circle cx="1166.0" cy="434.8" r="7.9"/><circle cx="1049.4" cy="399.9" r="7.9"/><circle cx="1003.8" cy="410.4" r="7.9"/><circle cx="1082.2" cy="413.2" r="7.9"/><circle cx="1026.2" cy="469.2" r="7.9"/><circle cx="1088.7" cy="454.4" r="7.9"/><circle cx="1017.9" cy="409.0" r="7.9"/><circle cx="1112.9" cy="421.2" r="7.9"/><circle cx="1056.1" cy="469.8" r="7.9"/><circle cx="1089.0" cy="444.3" r="7.9"/><circle cx="1072.3" cy="432.8" r="7.9"/><circle cx="956.1" cy="432.5" r="7.9"/><circle cx="949.9" cy="431.7" r="7.9"/><circle cx="1060.7" cy="427.9" r="7.9"/><circle cx="1077.9" cy="428.5" r="7.9"/><circle cx="1065.5" cy="450.0" r="7.9"/><circle cx="1033.8" cy="412.6" r="7.9"/><circle cx="1073.5" cy="440.2" r="7.9"/><circle cx="1084.1" cy="401.1" r="7.9"/><circle cx="968.5" cy="432.0" r="7.9"/></g>
<g fill="url(#gr)"><circle cx="1050.2" cy="627.2" r="7.9"/><circle cx="1047.0" cy="620.0" r="7.9"/><circle cx="1043.1" cy="539.4" r="7.9"/><circle cx="1054.3" cy="589.4" r="7.9"/><circle cx="1035.7" cy="517.4" r="7.9"/><circle cx="1107.7" cy="554.7" r="7.9"/><circle cx="1046.8" cy="601.5" r="7.9"/><circle cx="1110.2" cy="589.4" r="7.9"/><circle cx="1024.5" cy="557.1" r="7.9"/><circle cx="1038.7" cy="632.5" r="7.9"/><circle cx="1110.2" cy="572.0" r="7.9"/><circle cx="1067.0" cy="571.6" r="7.9"/><circle cx="1021.0" cy="517.6" r="7.9"/><circle cx="1030.0" cy="520.0" r="7.9"/><circle cx="1041.9" cy="594.4" r="7.9"/><circle cx="987.3" cy="565.8" r="7.9"/><circle cx="1020.6" cy="548.7" r="7.9"/><circle cx="993.5" cy="563.3" r="7.9"/><circle cx="1038.7" cy="581.4" r="7.9"/><circle cx="1030.8" cy="538.2" r="7.9"/><circle cx="1051.8" cy="596.9" r="7.9"/><circle cx="1074.2" cy="546.0" r="7.9"/><circle cx="1048.1" cy="591.4" r="7.9"/><circle cx="1053.3" cy="617.6" r="7.9"/><circle cx="1077.9" cy="554.7" r="7.9"/><circle cx="927.0" cy="574.0" r="7.9"/><circle cx="1054.3" cy="533.6" r="7.9"/><circle cx="1029.5" cy="529.8" r="7.9"/><circle cx="1069.7" cy="552.7" r="7.9"/><circle cx="1026.0" cy="579.9" r="7.9"/><circle cx="1060.5" cy="521.2" r="7.9"/><circle cx="1014.6" cy="577.0" r="7.9"/><circle cx="1056.8" cy="624.2" r="7.9"/><circle cx="1008.4" cy="567.1" r="7.9"/><circle cx="1022.0" cy="535.0" r="7.9"/><circle cx="1032.0" cy="629.1" r="7.9"/><circle cx="1045.0" cy="527.0" r="7.9"/><circle cx="1015.9" cy="605.0" r="7.9"/><circle cx="996.0" cy="570.8" r="7.9"/><circle cx="1040.6" cy="522.4" r="7.9"/><circle cx="1070.4" cy="563.3" r="7.9"/><circle cx="1032.0" cy="554.7" r="7.9"/><circle cx="1051.8" cy="544.7" r="7.9"/><circle cx="1011.3" cy="586.0" r="7.9"/><circle cx="1086.6" cy="563.3" r="7.9"/><circle cx="1079.9" cy="567.2" r="7.9"/><circle cx="1150.0" cy="574.0" r="7.9"/><circle cx="1028.2" cy="518.7" r="7.9"/><circle cx="1014.9" cy="532.0" r="7.9"/><circle cx="1055.5" cy="526.7" r="7.9"/><circle cx="1033.3" cy="563.7" r="7.9"/><circle cx="1100.2" cy="557.1" r="7.9"/><circle cx="1037.0" cy="540.0" r="7.9"/><circle cx="936.0" cy="574.0" r="7.9"/><circle cx="1104.0" cy="567.1" r="7.9"/><circle cx="1026.3" cy="566.0" r="7.9"/><circle cx="1056.8" cy="605.2" r="7.9"/><circle cx="1010.9" cy="574.5" r="7.9"/><circle cx="1066.7" cy="579.5" r="7.9"/><circle cx="1078.2" cy="574.9" r="7.9"/><circle cx="1056.8" cy="611.8" r="7.9"/><circle cx="1068.0" cy="590.6" r="7.9"/><circle cx="952.7" cy="575.0" r="7.9"/><circle cx="1034.4" cy="547.2" r="7.9"/><circle cx="972.4" cy="572.0" r="7.9"/><circle cx="1082.4" cy="582.9" r="7.9"/><circle cx="1034.4" cy="616.7" r="7.9"/><circle cx="1025.8" cy="542.2" r="7.9"/><circle cx="1016.2" cy="521.9" r="7.9"/><circle cx="1020.8" cy="526.1" r="7.9"/><circle cx="1016.8" cy="539.7" r="7.9"/><circle cx="1107.7" cy="580.7" r="7.9"/><circle cx="1024.5" cy="601.8" r="7.9"/><circle cx="1085.3" cy="574.5" r="7.9"/><circle cx="1042.1" cy="513.5" r="7.9"/><circle cx="1146.0" cy="574.0" r="7.9"/><circle cx="1064.2" cy="546.0" r="7.9"/><circle cx="897.6" cy="572.4" r="7.9"/><circle cx="1032.0" cy="604.3" r="7.9"/><circle cx="993.5" cy="577.0" r="7.9"/><circle cx="1032.0" cy="584.4" r="7.9"/><circle cx="1085.5" cy="549.9" r="7.9"/><circle cx="1060.5" cy="562.1" r="7.9"/><circle cx="1209.6" cy="574.0" r="7.9"/><circle cx="1056.8" cy="541.0" r="7.9"/><circle cx="849.0" cy="573.0" r="7.9"/><circle cx="1025.0" cy="620.0" r="7.9"/><circle cx="1017.9" cy="584.2" r="7.9"/><circle cx="1044.1" cy="586.1" r="7.9"/><circle cx="983.6" cy="574.5" r="7.9"/><circle cx="1040.0" cy="610.0" r="7.9"/><circle cx="1028.5" cy="611.1" r="7.9"/><circle cx="1018.3" cy="591.9" r="7.9"/><circle cx="1013.5" cy="555.1" r="7.9"/><circle cx="1095.3" cy="584.4" r="7.9"/><circle cx="836.8" cy="576.0" r="7.9"/><circle cx="1030.0" cy="595.0" r="7.9"/><circle cx="1089.1" cy="580.7" r="7.9"/><circle cx="1097.7" cy="575.1" r="7.9"/><circle cx="1053.1" cy="521.1" r="7.9"/><circle cx="1090.7" cy="555.3" r="7.9"/><circle cx="1077.9" cy="596.9" r="7.9"/><circle cx="1041.9" cy="546.0" r="7.9"/><circle cx="1135.0" cy="572.0" r="7.9"/><circle cx="1049.1" cy="538.8" r="7.9"/><circle cx="1046.5" cy="517.6" r="7.9"/><circle cx="977.3" cy="568.3" r="7.9"/><circle cx="1041.9" cy="621.7" r="7.9"/><circle cx="1039.4" cy="531.1" r="7.9"/><circle cx="1070.4" cy="584.4" r="7.9"/><circle cx="1019.5" cy="563.3" r="7.9"/><circle cx="1024.5" cy="586.9" r="7.9"/><circle cx="1115.1" cy="562.1" r="7.9"/><circle cx="1126.3" cy="579.5" r="7.9"/><circle cx="1141.6" cy="572.0" r="7.9"/><circle cx="1012.1" cy="544.7" r="7.9"/><circle cx="1012.1" cy="594.4" r="7.9"/><circle cx="1046.9" cy="634.1" r="7.9"/><circle cx="1034.6" cy="524.4" r="7.9"/><circle cx="1060.5" cy="615.5" r="7.9"/><circle cx="1019.5" cy="610.5" r="7.9"/><circle cx="1062.8" cy="535.9" r="7.9"/><circle cx="1039.8" cy="602.7" r="7.9"/><circle cx="1048.2" cy="532.7" r="7.9"/><circle cx="1092.8" cy="567.9" r="7.9"/><circle cx="1036.7" cy="590.0" r="7.9"/><circle cx="1049.3" cy="609.2" r="7.9"/><circle cx="1060.3" cy="575.1" r="7.9"/><circle cx="1115.1" cy="582.0" r="7.9"/><circle cx="1061.8" cy="528.6" r="7.9"/><circle cx="1053.1" cy="554.7" r="7.9"/></g>
<g fill="url(#gt)"><circle cx="1049.0" cy="775.3" r="7.9"/><circle cx="1065.3" cy="801.1" r="7.9"/><circle cx="1133.4" cy="752.8" r="7.9"/><circle cx="1027.5" cy="744.1" r="7.9"/><circle cx="1169.6" cy="771.8" r="7.9"/><circle cx="1107.4" cy="802.1" r="7.9"/><circle cx="1055.3" cy="800.6" r="7.9"/><circle cx="1040.0" cy="724.0" r="7.9"/><circle cx="1154.9" cy="790.0" r="7.9"/><circle cx="1055.0" cy="768.7" r="7.9"/><circle cx="1186.6" cy="766.4" r="7.9"/><circle cx="1208.6" cy="771.4" r="7.9"/><circle cx="1095.7" cy="732.2" r="7.9"/><circle cx="1089.1" cy="760.5" r="7.9"/><circle cx="1110.5" cy="794.2" r="7.9"/><circle cx="1072.5" cy="751.2" r="7.9"/><circle cx="985.8" cy="755.7" r="7.9"/><circle cx="1016.5" cy="758.3" r="7.9"/><circle cx="1129.5" cy="729.0" r="7.9"/><circle cx="1069.1" cy="729.1" r="7.9"/><circle cx="1100.1" cy="761.6" r="7.9"/><circle cx="1098.4" cy="772.3" r="7.9"/><circle cx="1030.7" cy="782.7" r="7.9"/><circle cx="1114.1" cy="780.4" r="7.9"/><circle cx="1123.0" cy="743.3" r="7.9"/><circle cx="1093.6" cy="711.1" r="7.9"/><circle cx="1035.6" cy="745.9" r="7.9"/><circle cx="1064.0" cy="815.6" r="7.9"/><circle cx="1092.0" cy="807.0" r="7.9"/><circle cx="1117.3" cy="718.2" r="7.9"/><circle cx="1055.6" cy="784.9" r="7.9"/><circle cx="991.9" cy="773.1" r="7.9"/><circle cx="1155.1" cy="743.7" r="7.9"/><circle cx="1303.4" cy="765.3" r="7.9"/><circle cx="1018.6" cy="741.6" r="7.9"/><circle cx="1064.1" cy="723.6" r="7.9"/><circle cx="1154.1" cy="758.4" r="7.9"/><circle cx="1254.9" cy="765.9" r="7.9"/><circle cx="1064.9" cy="761.4" r="7.9"/><circle cx="1122.4" cy="734.8" r="7.9"/><circle cx="1024.8" cy="761.2" r="7.9"/><circle cx="1076.8" cy="736.0" r="7.9"/><circle cx="1117.0" cy="773.1" r="7.9"/><circle cx="1089.2" cy="717.8" r="7.9"/><circle cx="997.9" cy="754.2" r="7.9"/><circle cx="1023.4" cy="736.8" r="7.9"/><circle cx="1097.8" cy="719.3" r="7.9"/><circle cx="1102.7" cy="780.0" r="7.9"/><circle cx="1147.2" cy="784.3" r="7.9"/><circle cx="1017.8" cy="778.7" r="7.9"/><circle cx="1042.9" cy="782.7" r="7.9"/><circle cx="1042.6" cy="756.2" r="7.9"/><circle cx="1079.7" cy="754.7" r="7.9"/><circle cx="1000.0" cy="764.0" r="7.9"/><circle cx="1112.3" cy="733.7" r="7.9"/><circle cx="1070.7" cy="718.2" r="7.9"/><circle cx="1048.7" cy="725.2" r="7.9"/><circle cx="1085.0" cy="711.1" r="7.9"/><circle cx="1168.8" cy="760.4" r="7.9"/><circle cx="1090.0" cy="725.5" r="7.9"/><circle cx="1102.1" cy="711.8" r="7.9"/><circle cx="1219.6" cy="763.7" r="7.9"/><circle cx="1148.3" cy="741.8" r="7.9"/><circle cx="1048.1" cy="788.5" r="7.9"/><circle cx="1067.0" cy="786.2" r="7.9"/><circle cx="1103.2" cy="733.0" r="7.9"/><circle cx="1108.8" cy="785.9" r="7.9"/><circle cx="1140.9" cy="779.7" r="7.9"/><circle cx="1164.0" cy="757.9" r="7.9"/><circle cx="1159.2" cy="764.1" r="7.9"/><circle cx="1126.6" cy="780.7" r="7.9"/><circle cx="1132.4" cy="770.2" r="7.9"/><circle cx="1085.3" cy="733.2" r="7.9"/><circle cx="1056.4" cy="811.8" r="7.9"/><circle cx="1024.7" cy="775.2" r="7.9"/><circle cx="1052.5" cy="761.0" r="7.9"/><circle cx="1036.1" cy="774.5" r="7.9"/><circle cx="1064.6" cy="747.4" r="7.9"/><circle cx="1087.8" cy="778.4" r="7.9"/><circle cx="1048.2" cy="809.4" r="7.9"/><circle cx="1171.0" cy="773.6" r="7.9"/><circle cx="1091.3" cy="768.0" r="7.9"/><circle cx="1158.1" cy="751.8" r="7.9"/><circle cx="1082.0" cy="772.4" r="7.9"/><circle cx="1017.6" cy="796.4" r="7.9"/><circle cx="1018.6" cy="750.2" r="7.9"/><circle cx="1077.8" cy="745.7" r="7.9"/><circle cx="1184.8" cy="754.3" r="7.9"/><circle cx="1032.2" cy="805.5" r="7.9"/><circle cx="1005.5" cy="770.9" r="7.9"/><circle cx="1096.1" cy="814.1" r="7.9"/><circle cx="1028.9" cy="769.2" r="7.9"/><circle cx="1088.2" cy="741.1" r="7.9"/><circle cx="1072.2" cy="759.2" r="7.9"/><circle cx="1035.6" cy="796.0" r="7.9"/><circle cx="1108.8" cy="726.0" r="7.9"/><circle cx="1056.4" cy="727.4" r="7.9"/><circle cx="1121.7" cy="725.5" r="7.9"/><circle cx="1085.8" cy="750.4" r="7.9"/><circle cx="1205.2" cy="772.5" r="7.9"/><circle cx="1112.9" cy="742.4" r="7.9"/><circle cx="1146.0" cy="755.4" r="7.9"/><circle cx="1046.5" cy="766.1" r="7.9"/><circle cx="1066.4" cy="738.7" r="7.9"/><circle cx="1043.8" cy="795.6" r="7.9"/><circle cx="1142.9" cy="764.4" r="7.9"/><circle cx="1042.3" cy="740.9" r="7.9"/><circle cx="1100.4" cy="806.9" r="7.9"/><circle cx="1141.9" cy="801.2" r="7.9"/><circle cx="1148.4" cy="795.6" r="7.9"/><circle cx="1027.7" cy="753.7" r="7.9"/><circle cx="1117.0" cy="787.4" r="7.9"/><circle cx="1031.4" cy="725.8" r="7.9"/><circle cx="1126.2" cy="798.3" r="7.9"/><circle cx="1025.0" cy="800.7" r="7.9"/><circle cx="1011.0" cy="782.7" r="7.9"/><circle cx="1113.3" cy="809.2" r="7.9"/><circle cx="1011.0" cy="774.1" r="7.9"/><circle cx="1089.0" cy="786.0" r="7.9"/><circle cx="1151.3" cy="770.9" r="7.9"/><circle cx="1096.9" cy="745.6" r="7.9"/><circle cx="1012.3" cy="765.8" r="7.9"/><circle cx="1134.4" cy="798.6" r="7.9"/><circle cx="1043.0" cy="732.6" r="7.9"/><circle cx="1161.6" cy="774.8" r="7.9"/><circle cx="1073.6" cy="772.1" r="7.9"/><circle cx="1140.0" cy="742.0" r="7.9"/><circle cx="970.6" cy="764.8" r="7.9"/><circle cx="1057.3" cy="752.4" r="7.9"/><circle cx="1095.1" cy="754.3" r="7.9"/><circle cx="1039.6" cy="809.4" r="7.9"/><circle cx="1117.9" cy="749.7" r="7.9"/><circle cx="1011.8" cy="791.2" r="7.9"/><circle cx="1080.2" cy="796.7" r="7.9"/><circle cx="929.7" cy="764.7" r="7.9"/><circle cx="1108.1" cy="772.0" r="7.9"/><circle cx="1037.8" cy="763.4" r="7.9"/><circle cx="1108.8" cy="763.4" r="7.9"/><circle cx="1125.4" cy="765.8" r="7.9"/><circle cx="1110.4" cy="713.7" r="7.9"/><circle cx="1071.9" cy="795.9" r="7.9"/><circle cx="1076.4" cy="712.0" r="7.9"/><circle cx="1044.3" cy="717.8" r="7.9"/><circle cx="1026.8" cy="793.4" r="7.9"/><circle cx="1124.4" cy="788.5" r="7.9"/><circle cx="1116.1" cy="758.4" r="7.9"/><circle cx="996.4" cy="758.7" r="7.9"/><circle cx="1067.5" cy="777.8" r="7.9"/><circle cx="1058.3" cy="775.9" r="7.9"/><circle cx="1132.7" cy="743.2" r="7.9"/><circle cx="1169.1" cy="764.6" r="7.9"/><circle cx="1048.6" cy="750.6" r="7.9"/><circle cx="1205.2" cy="760.4" r="7.9"/><circle cx="1079.0" cy="763.3" r="7.9"/><circle cx="1219.6" cy="770.3" r="7.9"/><circle cx="1376.0" cy="764.4" r="7.9"/><circle cx="1119.1" cy="803.0" r="7.9"/><circle cx="1138.1" cy="788.2" r="7.9"/><circle cx="1062.6" cy="769.3" r="7.9"/><circle cx="1158.4" cy="782.6" r="7.9"/><circle cx="1108.9" cy="816.6" r="7.9"/><circle cx="1059.3" cy="794.0" r="7.9"/><circle cx="1020.1" cy="768.2" r="7.9"/><circle cx="1143.8" cy="772.5" r="7.9"/><circle cx="1023.4" cy="786.9" r="7.9"/><circle cx="1125.3" cy="754.3" r="7.9"/><circle cx="1104.2" cy="740.6" r="7.9"/><circle cx="1034.9" cy="755.7" r="7.9"/><circle cx="1188.6" cy="766.4" r="7.9"/><circle cx="1078.4" cy="723.6" r="7.9"/><circle cx="1102.4" cy="819.9" r="7.9"/><circle cx="1135.5" cy="761.3" r="7.9"/><circle cx="1134.9" cy="735.2" r="7.9"/><circle cx="1124.6" cy="773.3" r="7.9"/></g>
<g fill="url(#gr)"><circle cx="1112.3" cy="932.1" r="7.9"/><circle cx="1154.1" cy="898.8" r="7.9"/><circle cx="1028.4" cy="865.9" r="7.9"/><circle cx="1041.7" cy="872.5" r="7.9"/><circle cx="1070.3" cy="888.0" r="7.9"/><circle cx="1138.6" cy="887.4" r="7.9"/><circle cx="1218.3" cy="914.3" r="7.9"/><circle cx="1030.6" cy="855.9" r="7.9"/><circle cx="1057.7" cy="963.7" r="7.9"/><circle cx="1187.2" cy="916.4" r="7.9"/><circle cx="1045.4" cy="950.1" r="7.9"/><circle cx="1092.1" cy="950.5" r="7.9"/><circle cx="1165.5" cy="898.8" r="7.9"/><circle cx="1066.4" cy="856.0" r="7.9"/><circle cx="1054.9" cy="846.0" r="7.9"/><circle cx="1052.0" cy="873.1" r="7.9"/><circle cx="919.0" cy="909.0" r="7.9"/><circle cx="1052.7" cy="969.6" r="7.9"/><circle cx="1050.5" cy="852.7" r="7.9"/><circle cx="1035.0" cy="961.9" r="7.9"/><circle cx="1104.5" cy="947.4" r="7.9"/><circle cx="1037.2" cy="952.0" r="7.9"/><circle cx="1030.0" cy="870.0" r="7.9"/><circle cx="1119.0" cy="886.4" r="7.9"/><circle cx="1099.0" cy="900.1" r="7.9"/><circle cx="1092.4" cy="884.7" r="7.9"/><circle cx="1042.9" cy="850.7" r="7.9"/><circle cx="1052.7" cy="939.8" r="7.9"/><circle cx="1026.0" cy="862.0" r="7.9"/><circle cx="1138.6" cy="878.1" r="7.9"/><circle cx="927.0" cy="909.0" r="7.9"/><circle cx="1036.1" cy="894.6" r="7.9"/><circle cx="1017.4" cy="921.1" r="7.9"/><circle cx="1032.8" cy="918.9" r="7.9"/><circle cx="1096.8" cy="933.2" r="7.9"/><circle cx="1228.6" cy="906.0" r="7.9"/><circle cx="968.3" cy="910.0" r="7.9"/><circle cx="1181.0" cy="911.2" r="7.9"/><circle cx="1124.1" cy="900.9" r="7.9"/><circle cx="1131.4" cy="900.9" r="7.9"/><circle cx="1006.3" cy="916.7" r="7.9"/><circle cx="1059.3" cy="950.9" r="7.9"/><circle cx="1070.3" cy="939.8" r="7.9"/><circle cx="1016.3" cy="893.5" r="7.9"/><circle cx="1149.0" cy="922.6" r="7.9"/><circle cx="1043.9" cy="881.3" r="7.9"/><circle cx="1060.4" cy="868.1" r="7.9"/><circle cx="1064.8" cy="849.3" r="7.9"/><circle cx="1044.9" cy="857.9" r="7.9"/><circle cx="1111.7" cy="935.0" r="7.9"/><circle cx="1135.5" cy="911.2" r="7.9"/><circle cx="1143.8" cy="910.2" r="7.9"/><circle cx="1103.4" cy="885.8" r="7.9"/><circle cx="1069.7" cy="971.7" r="7.9"/><circle cx="1085.8" cy="929.9" r="7.9"/><circle cx="1095.7" cy="896.8" r="7.9"/><circle cx="1055.9" cy="860.6" r="7.9"/><circle cx="1069.2" cy="879.1" r="7.9"/><circle cx="1011.9" cy="917.8" r="7.9"/><circle cx="1065.9" cy="961.9" r="7.9"/><circle cx="1151.0" cy="929.8" r="7.9"/><circle cx="1092.4" cy="950.9" r="7.9"/><circle cx="1020.7" cy="911.1" r="7.9"/><circle cx="1226.5" cy="907.1" r="7.9"/><circle cx="1022.9" cy="896.8" r="7.9"/><circle cx="1169.7" cy="911.2" r="7.9"/><circle cx="1114.5" cy="945.3" r="7.9"/><circle cx="1045.0" cy="972.9" r="7.9"/><circle cx="1084.7" cy="861.5" r="7.9"/><circle cx="1031.7" cy="948.7" r="7.9"/><circle cx="1091.3" cy="879.1" r="7.9"/><circle cx="1061.0" cy="971.2" r="7.9"/><circle cx="1025.1" cy="935.4" r="7.9"/><circle cx="1026.2" cy="916.7" r="7.9"/><circle cx="1097.9" cy="922.2" r="7.9"/><circle cx="1070.0" cy="960.0" r="7.9"/><circle cx="1114.8" cy="929.8" r="7.9"/><circle cx="1069.2" cy="908.9" r="7.9"/><circle cx="1105.7" cy="946.4" r="7.9"/><circle cx="1064.8" cy="929.9" r="7.9"/><circle cx="1081.4" cy="883.6" r="7.9"/><circle cx="999.7" cy="916.7" r="7.9"/><circle cx="1133.4" cy="928.8" r="7.9"/><circle cx="1128.3" cy="919.5" r="7.9"/><circle cx="1056.0" cy="890.2" r="7.9"/><circle cx="1048.3" cy="905.6" r="7.9"/><circle cx="1035.0" cy="869.2" r="7.9"/><circle cx="1091.3" cy="864.8" r="7.9"/><circle cx="981.0" cy="914.4" r="7.9"/><circle cx="1022.9" cy="945.3" r="7.9"/><circle cx="974.3" cy="905.6" r="7.9"/><circle cx="1037.2" cy="857.1" r="7.9"/><circle cx="1202.8" cy="911.2" r="7.9"/><circle cx="1059.3" cy="854.9" r="7.9"/><circle cx="1123.1" cy="946.4" r="7.9"/><circle cx="1072.6" cy="965.2" r="7.9"/><circle cx="1039.9" cy="944.7" r="7.9"/><circle cx="1039.7" cy="863.7" r="7.9"/><circle cx="1114.5" cy="921.1" r="7.9"/><circle cx="1075.9" cy="967.4" r="7.9"/><circle cx="1122.1" cy="911.2" r="7.9"/><circle cx="1079.2" cy="950.9" r="7.9"/><circle cx="1162.4" cy="897.8" r="7.9"/><circle cx="1060.0" cy="850.0" r="7.9"/><circle cx="1116.7" cy="883.6" r="7.9"/><circle cx="1158.3" cy="908.1" r="7.9"/><circle cx="1180.0" cy="923.6" r="7.9"/><circle cx="1054.9" cy="956.4" r="7.9"/><circle cx="1110.7" cy="888.4" r="7.9"/><circle cx="1048.7" cy="865.9" r="7.9"/><circle cx="1033.6" cy="941.1" r="7.9"/><circle cx="1113.8" cy="948.4" r="7.9"/><circle cx="1135.5" cy="945.3" r="7.9"/><circle cx="1078.1" cy="922.2" r="7.9"/><circle cx="1046.1" cy="961.9" r="7.9"/><circle cx="897.0" cy="910.0" r="7.9"/><circle cx="1040.0" cy="958.0" r="7.9"/><circle cx="1117.8" cy="901.2" r="7.9"/><circle cx="1123.1" cy="886.4" r="7.9"/><circle cx="1116.9" cy="920.5" r="7.9"/><circle cx="1145.9" cy="894.7" r="7.9"/></g>
<g fill="url(#gt)"><circle cx="984.8" cy="1109.3" r="7.9"/><circle cx="1036.7" cy="1140.6" r="7.9"/><circle cx="1079.0" cy="1078.9" r="7.9"/><circle cx="1205.0" cy="1110.2" r="7.9"/><circle cx="954.7" cy="1096.6" r="7.9"/><circle cx="1287.1" cy="1102.0" r="7.9"/><circle cx="1164.0" cy="1098.4" r="7.9"/><circle cx="1179.2" cy="1112.5" r="7.9"/><circle cx="1023.6" cy="1132.2" r="7.9"/><circle cx="1095.2" cy="1100.9" r="7.9"/><circle cx="1109.3" cy="1075.5" r="7.9"/><circle cx="1193.3" cy="1112.5" r="7.9"/><circle cx="1202.7" cy="1098.4" r="7.9"/><circle cx="1107.5" cy="1138.5" r="7.9"/><circle cx="1095.4" cy="1068.4" r="7.9"/><circle cx="1087.9" cy="1084.0" r="7.9"/><circle cx="1089.8" cy="1126.9" r="7.9"/><circle cx="1070.7" cy="1048.1" r="7.9"/><circle cx="1128.9" cy="1090.4" r="7.9"/><circle cx="1066.0" cy="1077.6" r="7.9"/><circle cx="1119.3" cy="1126.7" r="7.9"/><circle cx="1038.2" cy="1072.4" r="7.9"/><circle cx="1284.7" cy="1100.8" r="7.9"/><circle cx="1135.4" cy="1095.7" r="7.9"/><circle cx="1011.2" cy="1111.7" r="7.9"/><circle cx="1023.0" cy="1091.7" r="7.9"/><circle cx="1058.6" cy="1091.6" r="7.9"/><circle cx="1037.6" cy="1123.6" r="7.9"/><circle cx="1116.3" cy="1079.8" r="7.9"/><circle cx="1058.8" cy="1127.5" r="7.9"/><circle cx="1058.2" cy="1063.4" r="7.9"/><circle cx="1284.7" cy="1110.2" r="7.9"/><circle cx="1162.8" cy="1111.3" r="7.9"/><circle cx="1396.0" cy="1105.0" r="7.9"/><circle cx="1099.4" cy="1123.2" r="7.9"/><circle cx="1121.8" cy="1092.5" r="7.9"/><circle cx="1068.9" cy="1161.1" r="7.9"/><circle cx="1041.2" cy="1132.8" r="7.9"/><circle cx="1280.1" cy="1106.7" r="7.9"/><circle cx="1031.6" cy="1134.4" r="7.9"/><circle cx="1133.4" cy="1118.3" r="7.9"/><circle cx="1040.5" cy="1107.6" r="7.9"/><circle cx="1071.3" cy="1152.6" r="7.9"/><circle cx="1082.9" cy="1069.3" r="7.9"/><circle cx="1072.0" cy="1137.8" r="7.9"/><circle cx="1053.3" cy="1083.4" r="7.9"/><circle cx="1048.3" cy="1088.7" r="7.9"/><circle cx="1096.0" cy="1093.3" r="7.9"/><circle cx="1050.2" cy="1076.3" r="7.9"/><circle cx="1057.0" cy="1146.7" r="7.9"/><circle cx="1030.3" cy="1075.0" r="7.9"/><circle cx="1085.3" cy="1056.0" r="7.9"/><circle cx="990.0" cy="1103.0" r="7.9"/><circle cx="1051.6" cy="1096.5" r="7.9"/><circle cx="1090.1" cy="1112.9" r="7.9"/><circle cx="1016.4" cy="1097.5" r="7.9"/><circle cx="1186.3" cy="1103.1" r="7.9"/><circle cx="1113.4" cy="1132.6" r="7.9"/><circle cx="978.5" cy="1106.1" r="7.9"/><circle cx="1266.0" cy="1107.8" r="7.9"/><circle cx="1087.6" cy="1105.0" r="7.9"/><circle cx="1074.1" cy="1072.7" r="7.9"/><circle cx="983.2" cy="1099.8" r="7.9"/><circle cx="1062.1" cy="1055.7" r="7.9"/><circle cx="945.0" cy="1103.0" r="7.9"/><circle cx="1016.6" cy="1105.7" r="7.9"/><circle cx="1045.1" cy="1068.1" r="7.9"/><circle cx="1072.3" cy="1057.9" r="7.9"/><circle cx="1071.9" cy="1105.2" r="7.9"/><circle cx="932.4" cy="1101.4" r="7.9"/><circle cx="953.1" cy="1103.0" r="7.9"/><circle cx="1126.5" cy="1122.6" r="7.9"/><circle cx="1015.4" cy="1081.3" r="7.9"/><circle cx="1053.9" cy="1157.7" r="7.9"/><circle cx="1086.7" cy="1139.7" r="7.9"/><circle cx="1062.5" cy="1139.5" r="7.9"/><circle cx="1032.7" cy="1088.7" r="7.9"/><circle cx="1138.0" cy="1103.1" r="7.9"/><circle cx="1014.4" cy="1119.3" r="7.9"/><circle cx="1032.7" cy="1104.3" r="7.9"/><circle cx="1040.1" cy="1115.6" r="7.9"/><circle cx="1022.1" cy="1076.5" r="7.9"/><circle cx="1081.8" cy="1088.6" r="7.9"/><circle cx="1103.4" cy="1069.6" r="7.9"/><circle cx="1079.2" cy="1109.5" r="7.9"/><circle cx="1049.9" cy="1061.4" r="7.9"/><circle cx="1106.3" cy="1095.3" r="7.9"/><circle cx="1055.2" cy="1045.6" r="7.9"/><circle cx="1052.3" cy="1053.4" r="7.9"/><circle cx="1052.4" cy="1132.8" r="7.9"/><circle cx="1126.3" cy="1113.1" r="7.9"/><circle cx="1095.0" cy="1133.3" r="7.9"/><circle cx="1125.5" cy="1099.6" r="7.9"/><circle cx="1138.0" cy="1111.4" r="7.9"/><circle cx="1040.5" cy="1085.4" r="7.9"/><circle cx="1090.0" cy="1062.5" r="7.9"/><circle cx="1040.5" cy="1147.9" r="7.9"/><circle cx="1155.0" cy="1104.0" r="7.9"/><circle cx="1017.2" cy="1127.1" r="7.9"/><circle cx="1192.1" cy="1106.7" r="7.9"/><circle cx="1023.0" cy="1102.4" r="7.9"/><circle cx="1026.6" cy="1109.2" r="7.9"/><circle cx="1075.3" cy="1097.3" r="7.9"/><circle cx="1068.9" cy="1090.5" r="7.9"/><circle cx="926.1" cy="1102.2" r="7.9"/><circle cx="1068.4" cy="1145.0" r="7.9"/><circle cx="1175.0" cy="1105.0" r="7.9"/><circle cx="1102.6" cy="1078.8" r="7.9"/><circle cx="995.9" cy="1106.1" r="7.9"/><circle cx="1102.3" cy="1133.0" r="7.9"/><circle cx="1096.7" cy="1109.2" r="7.9"/><circle cx="1029.9" cy="1126.2" r="7.9"/><circle cx="1073.8" cy="1085.0" r="7.9"/><circle cx="1110.2" cy="1109.8" r="7.9"/><circle cx="1029.4" cy="1096.5" r="7.9"/><circle cx="1113.5" cy="1100.2" r="7.9"/><circle cx="1024.2" cy="1083.9" r="7.9"/><circle cx="940.4" cy="1098.2" r="7.9"/><circle cx="1060.8" cy="1083.5" r="7.9"/><circle cx="1088.4" cy="1147.6" r="7.9"/><circle cx="1074.4" cy="1131.0" r="7.9"/><circle cx="1077.3" cy="1064.7" r="7.9"/><circle cx="1100.0" cy="1141.8" r="7.9"/><circle cx="1214.4" cy="1106.7" r="7.9"/><circle cx="1060.6" cy="1162.2" r="7.9"/><circle cx="1119.1" cy="1107.6" r="7.9"/><circle cx="1055.5" cy="1119.8" r="7.9"/><circle cx="1047.5" cy="1152.4" r="7.9"/><circle cx="1118.4" cy="1115.7" r="7.9"/><circle cx="1066.1" cy="1131.8" r="7.9"/><circle cx="1067.1" cy="1063.0" r="7.9"/><circle cx="1159.3" cy="1096.1" r="7.9"/><circle cx="1104.5" cy="1085.8" r="7.9"/><circle cx="1056.2" cy="1102.3" r="7.9"/><circle cx="1078.0" cy="1051.9" r="7.9"/><circle cx="1080.7" cy="1125.4" r="7.9"/><circle cx="1147.6" cy="1111.3" r="7.9"/><circle cx="1103.3" cy="1103.5" r="7.9"/><circle cx="1168.7" cy="1099.6" r="7.9"/><circle cx="1061.8" cy="1154.3" r="7.9"/><circle cx="1096.3" cy="1082.4" r="7.9"/><circle cx="1147.6" cy="1096.1" r="7.9"/><circle cx="1046.0" cy="1124.5" r="7.9"/><circle cx="1123.0" cy="1084.5" r="7.9"/><circle cx="1063.6" cy="1106.0" r="7.9"/><circle cx="1130.7" cy="1104.7" r="7.9"/><circle cx="1107.1" cy="1127.4" r="7.9"/><circle cx="1113.1" cy="1092.7" r="7.9"/><circle cx="1062.5" cy="1047.3" r="7.9"/><circle cx="1275.4" cy="1106.7" r="7.9"/><circle cx="1079.8" cy="1135.5" r="7.9"/><circle cx="1048.3" cy="1104.3" r="7.9"/><circle cx="994.3" cy="1095.0" r="7.9"/><circle cx="1113.3" cy="1122.3" r="7.9"/><circle cx="1057.3" cy="1111.6" r="7.9"/><circle cx="1042.9" cy="1078.0" r="7.9"/><circle cx="1082.5" cy="1117.2" r="7.9"/><circle cx="1064.5" cy="1097.0" r="7.9"/><circle cx="1107.0" cy="1118.0" r="7.9"/><circle cx="1088.5" cy="1074.5" r="7.9"/><circle cx="1076.9" cy="1158.9" r="7.9"/><circle cx="1059.1" cy="1070.9" r="7.9"/><circle cx="1082.8" cy="1096.6" r="7.9"/><circle cx="1015.2" cy="1089.3" r="7.9"/><circle cx="1023.3" cy="1118.6" r="7.9"/><circle cx="1049.9" cy="1140.4" r="7.9"/><circle cx="1032.6" cy="1114.3" r="7.9"/><circle cx="1167.5" cy="1113.7" r="7.9"/><circle cx="957.8" cy="1106.1" r="7.9"/><circle cx="1048.2" cy="1113.8" r="7.9"/></g>
<g fill="url(#gr)"><circle cx="1036.5" cy="1248.3" r="7.9"/><circle cx="1113.4" cy="1259.6" r="7.9"/><circle cx="1056.4" cy="1234.7" r="7.9"/><circle cx="1107.2" cy="1207.3" r="7.9"/><circle cx="1065.1" cy="1238.4" r="7.9"/><circle cx="1184.1" cy="1244.6" r="7.9"/><circle cx="1134.5" cy="1228.4" r="7.9"/><circle cx="1084.8" cy="1273.1" r="7.9"/><circle cx="1016.7" cy="1269.4" r="7.9"/><circle cx="1130.8" cy="1211.1" r="7.9"/><circle cx="1050.2" cy="1286.8" r="7.9"/><circle cx="1052.7" cy="1276.9" r="7.9"/><circle cx="991.2" cy="1251.4" r="7.9"/><circle cx="1098.5" cy="1221.0" r="7.9"/><circle cx="1068.7" cy="1214.8" r="7.9"/><circle cx="915.5" cy="1248.3" r="7.9"/><circle cx="961.4" cy="1253.9" r="7.9"/><circle cx="1092.7" cy="1255.7" r="7.9"/><circle cx="1073.8" cy="1204.9" r="7.9"/><circle cx="970.8" cy="1246.4" r="7.9"/><circle cx="1037.8" cy="1273.8" r="7.9"/><circle cx="1104.7" cy="1258.2" r="7.9"/><circle cx="1134.5" cy="1255.8" r="7.9"/><circle cx="1120.8" cy="1254.5" r="7.9"/><circle cx="1087.5" cy="1216.4" r="7.9"/><circle cx="1100.7" cy="1213.5" r="7.9"/><circle cx="1040.5" cy="1234.1" r="7.9"/><circle cx="1099.7" cy="1198.7" r="7.9"/><circle cx="1110.2" cy="1249.6" r="7.9"/><circle cx="1058.9" cy="1253.3" r="7.9"/><circle cx="1045.0" cy="1265.0" r="7.9"/><circle cx="1090.0" cy="1235.0" r="7.9"/><circle cx="1225.0" cy="1251.0" r="7.9"/><circle cx="1050.0" cy="1255.0" r="7.9"/><circle cx="1073.7" cy="1226.0" r="7.9"/><circle cx="1055.2" cy="1269.4" r="7.9"/><circle cx="1117.5" cy="1228.6" r="7.9"/><circle cx="1082.0" cy="1245.0" r="7.9"/><circle cx="1154.3" cy="1264.4" r="7.9"/><circle cx="1071.3" cy="1299.2" r="7.9"/><circle cx="950.9" cy="1248.3" r="7.9"/><circle cx="1044.0" cy="1284.3" r="7.9"/><circle cx="1179.2" cy="1259.5" r="7.9"/><circle cx="1024.1" cy="1262.0" r="7.9"/><circle cx="1091.0" cy="1293.0" r="7.9"/><circle cx="1080.0" cy="1283.0" r="7.9"/><circle cx="1035.3" cy="1260.4" r="7.9"/><circle cx="1171.7" cy="1260.7" r="7.9"/><circle cx="1101.7" cy="1227.9" r="7.9"/><circle cx="1076.1" cy="1257.0" r="7.9"/><circle cx="1021.6" cy="1252.0" r="7.9"/><circle cx="1156.8" cy="1232.2" r="7.9"/><circle cx="1110.0" cy="1270.0" r="7.9"/><circle cx="1199.0" cy="1255.8" r="7.9"/><circle cx="1129.7" cy="1251.1" r="7.9"/><circle cx="1115.9" cy="1244.6" r="7.9"/><circle cx="1073.8" cy="1271.9" r="7.9"/><circle cx="1058.9" cy="1284.3" r="7.9"/><circle cx="1086.1" cy="1296.7" r="7.9"/><circle cx="1151.9" cy="1249.5" r="7.9"/><circle cx="1102.6" cy="1236.1" r="7.9"/><circle cx="1123.3" cy="1213.6" r="7.9"/><circle cx="1030.3" cy="1224.7" r="7.9"/><circle cx="1034.1" cy="1243.3" r="7.9"/><circle cx="1189.1" cy="1247.1" r="7.9"/><circle cx="1045.0" cy="1240.0" r="7.9"/><circle cx="1060.0" cy="1262.7" r="7.9"/><circle cx="1019.2" cy="1260.7" r="7.9"/><circle cx="1005.5" cy="1259.5" r="7.9"/><circle cx="936.9" cy="1245.8" r="7.9"/><circle cx="1044.0" cy="1227.2" r="7.9"/><circle cx="1103.1" cy="1249.7" r="7.9"/><circle cx="1109.7" cy="1232.2" r="7.9"/><circle cx="1115.9" cy="1284.3" r="7.9"/><circle cx="1156.8" cy="1255.8" r="7.9"/><circle cx="1127.0" cy="1271.9" r="7.9"/><circle cx="1101.0" cy="1296.7" r="7.9"/><circle cx="1122.1" cy="1249.5" r="7.9"/><circle cx="1041.5" cy="1212.3" r="7.9"/><circle cx="1124.9" cy="1236.2" r="7.9"/><circle cx="1012.3" cy="1252.0" r="7.9"/><circle cx="1073.7" cy="1286.8" r="7.9"/><circle cx="1067.4" cy="1243.3" r="7.9"/><circle cx="1044.2" cy="1219.4" r="7.9"/><circle cx="1090.1" cy="1223.0" r="7.9"/><circle cx="1137.0" cy="1274.4" r="7.9"/><circle cx="1125.0" cy="1260.0" r="7.9"/><circle cx="999.0" cy="1247.7" r="7.9"/><circle cx="1062.5" cy="1281.8" r="7.9"/><circle cx="1029.7" cy="1273.1" r="7.9"/><circle cx="1074.9" cy="1234.7" r="7.9"/><circle cx="1118.3" cy="1238.4" r="7.9"/><circle cx="1223.9" cy="1249.5" r="7.9"/><circle cx="1095.4" cy="1209.3" r="7.9"/><circle cx="1094.1" cy="1215.8" r="7.9"/><circle cx="1065.0" cy="1269.4" r="7.9"/><circle cx="1096.0" cy="1283.1" r="7.9"/><circle cx="1083.6" cy="1226.0" r="7.9"/><circle cx="1037.8" cy="1224.7" r="7.9"/><circle cx="1062.5" cy="1254.5" r="7.9"/><circle cx="1209.0" cy="1245.8" r="7.9"/><circle cx="1104.7" cy="1243.3" r="7.9"/><circle cx="1084.8" cy="1209.8" r="7.9"/><circle cx="1096.1" cy="1242.7" r="7.9"/><circle cx="1071.2" cy="1300.4" r="7.9"/><circle cx="1058.9" cy="1221.0" r="7.9"/><circle cx="1134.3" cy="1244.4" r="7.9"/><circle cx="1068.8" cy="1254.5" r="7.9"/><circle cx="1067.6" cy="1218.5" r="7.9"/><circle cx="1075.0" cy="1286.8" r="7.9"/><circle cx="1095.1" cy="1230.3" r="7.9"/><circle cx="1140.7" cy="1249.5" r="7.9"/><circle cx="1141.9" cy="1274.4" r="7.9"/><circle cx="1061.4" cy="1271.9" r="7.9"/><circle cx="1127.0" cy="1244.6" r="7.9"/><circle cx="1093.5" cy="1269.4" r="7.9"/><circle cx="1033.4" cy="1234.2" r="7.9"/><circle cx="1112.0" cy="1225.0" r="7.9"/><circle cx="1030.4" cy="1216.0" r="7.9"/><circle cx="1060.1" cy="1208.6" r="7.9"/><circle cx="1106.2" cy="1221.5" r="7.9"/><circle cx="1001.0" cy="1247.7" r="7.9"/></g>
<g stroke="#A6A6A6" stroke-width="4.4" stroke-dasharray="20.6 16.4"><line x1="342.9" y1="6.9" x2="342.9" y2="320.7"/><line x1="343.7" y1="345.4" x2="343.7" y2="658.4"/><line x1="343.0" y1="682.0" x2="343.0" y2="995.9"/><line x1="342.9" y1="1017.6" x2="342.9" y2="1331.4"/><line x1="1046.0" y1="344.6" x2="1046.0" y2="658.3"/><line x1="1048.2" y1="681.1" x2="1048.2" y2="994.0"/><line x1="1048.4" y1="1019.7" x2="1048.4" y2="1333.5"/></g>
<g stroke="#000" stroke-width="3.25"><line x1="351.3" y1="91.6" x2="378.9" y2="91.6"/><line x1="347.5" y1="236.5" x2="404.6" y2="236.5"/><line x1="341.3" y1="429.4" x2="370.7" y2="429.4"/><line x1="363.2" y1="573.6" x2="400.8" y2="573.6"/><line x1="288.8" y1="766.9" x2="333.3" y2="766.9"/><line x1="301.9" y1="911.5" x2="355.8" y2="911.5"/><line x1="350" y1="1102.3" x2="363" y2="1102.3"/><line x1="328.8" y1="1246.7" x2="371.4" y2="1246.7"/><line x1="1046" y1="429.4" x2="1059" y2="429.4"/><line x1="1026.9" y1="573.6" x2="1061.4" y2="573.6"/><line x1="1084.5" y1="765.1" x2="1110.2" y2="765.1"/><line x1="1061.9" y1="909.5" x2="1106.4" y2="909.5"/><line x1="1068.8" y1="1104.3" x2="1113.9" y2="1104.3"/><line x1="1078.6" y1="1248.7" x2="1106.7" y2="1248.7"/><circle fill="#fff" cx="365.5" cy="91.6" r="9.7"/><circle fill="#fff" cx="375.8" cy="236.5" r="9.7"/><circle fill="#fff" cx="356.3" cy="429.4" r="9.7"/><circle fill="#fff" cx="382.0" cy="573.6" r="9.7"/><circle fill="#fff" cx="311.1" cy="766.9" r="9.7"/><circle fill="#fff" cx="328.9" cy="911.5" r="9.7"/><circle fill="#fff" cx="356.6" cy="1102.3" r="9.7"/><circle fill="#fff" cx="349.5" cy="1246.7" r="9.7"/><circle fill="#fff" cx="1052.4" cy="429.4" r="9.7"/><circle fill="#fff" cx="1044.1" cy="573.6" r="9.7"/><circle fill="#fff" cx="1097.4" cy="765.1" r="9.7"/><circle fill="#fff" cx="1083.9" cy="909.5" r="9.7"/><circle fill="#fff" cx="1092.0" cy="1104.3" r="9.7"/><circle fill="#fff" cx="1092.4" cy="1248.7" r="9.7"/></g>
<g fill="none" stroke="#000" stroke-width="3.9" stroke-linejoin="round"><rect x="6.6" y="5.0" width="672.4" height="317.6"/><rect x="7.3" y="343.5" width="672.8" height="316.8"/><rect x="7.0" y="680.1" width="672.2" height="317.7"/><rect x="6.2" y="1015.7" width="673.0" height="317.6"/><rect x="770.2" y="342.7" width="672.9" height="317.5"/><rect x="772.2" y="679.2" width="672.7" height="316.7"/><rect x="772.2" y="1017.8" width="672.7" height="317.6"/></g>
<g stroke="#000" stroke-width="1.6"><line x1="137.9" y1="322.6" x2="137.9" y2="326.6"/><line x1="342.4" y1="322.6" x2="342.4" y2="326.6"/><line x1="546.1" y1="322.6" x2="546.1" y2="326.6"/><line x1="137.9" y1="660.3" x2="137.9" y2="664.3"/><line x1="342.4" y1="660.3" x2="342.4" y2="664.3"/><line x1="546.1" y1="660.3" x2="546.1" y2="664.3"/><line x1="137.9" y1="997.8" x2="137.9" y2="1001.8"/><line x1="342.4" y1="997.8" x2="342.4" y2="1001.8"/><line x1="546.1" y1="997.8" x2="546.1" y2="1001.8"/><line x1="137.9" y1="1333.3" x2="137.9" y2="1337.3"/><line x1="342.4" y1="1333.3" x2="342.4" y2="1337.3"/><line x1="546.1" y1="1333.3" x2="546.1" y2="1337.3"/><line x1="802.9" y1="660.2" x2="802.9" y2="664.2"/><line x1="925.2" y1="660.2" x2="925.2" y2="664.2"/><line x1="1047.4" y1="660.2" x2="1047.4" y2="664.2"/><line x1="1169.7" y1="660.2" x2="1169.7" y2="664.2"/><line x1="1291.9" y1="660.2" x2="1291.9" y2="664.2"/><line x1="1414.2" y1="660.2" x2="1414.2" y2="664.2"/><line x1="802.9" y1="995.9" x2="802.9" y2="999.9"/><line x1="925.2" y1="995.9" x2="925.2" y2="999.9"/><line x1="1047.4" y1="995.9" x2="1047.4" y2="999.9"/><line x1="1169.7" y1="995.9" x2="1169.7" y2="999.9"/><line x1="1291.9" y1="995.9" x2="1291.9" y2="999.9"/><line x1="1414.2" y1="995.9" x2="1414.2" y2="999.9"/><line x1="802.9" y1="1335.4" x2="802.9" y2="1339.4"/><line x1="925.2" y1="1335.4" x2="925.2" y2="1339.4"/><line x1="1047.4" y1="1335.4" x2="1047.4" y2="1339.4"/><line x1="1169.7" y1="1335.4" x2="1169.7" y2="1339.4"/><line x1="1291.9" y1="1335.4" x2="1291.9" y2="1339.4"/><line x1="1414.2" y1="1335.4" x2="1414.2" y2="1339.4"/></g>
<circle cx="913.4" cy="110.6" r="20.2" fill="#62D8CB"/>
<circle cx="913.4" cy="187" r="20.3" fill="#EC6F6E"/>
</svg>
<div style="position:absolute;left:15.9px;top:15.7px;font-size:37px;">(a) C-enzymes</div><div style="position:absolute;left:15.9px;top:361.3px;font-size:37px;">(b) N-enzymes</div><div style="position:absolute;left:16.2px;top:694.6px;font-size:37px;">(c) P-enzymes</div><div style="position:absolute;left:16.2px;top:1035.8px;font-size:37px;">(d) Vector length</div><div style="position:absolute;left:780.3px;top:361.0px;font-size:37px;">(e) Enzyme C:N</div><div style="position:absolute;left:780.3px;top:694.6px;font-size:37px;">(f) Enzyme C:P</div><div style="position:absolute;left:780.3px;top:1036.5px;font-size:37px;">(g) Enzyme N:P</div><div style="position:absolute;left:186.9px;top:1390.6px;font-size:41.5px;">Log response ratio</div><div style="position:absolute;left:938.4px;top:1391.1px;font-size:41.5px;">Log response ratio</div><div style="position:absolute;left:116px;top:1344.3px;font-size:36px;">-1</div><div style="position:absolute;left:333px;top:1344.9px;font-size:36px;">0</div><div style="position:absolute;left:536.2px;top:1344.3px;font-size:36px;">1</div><div style="position:absolute;left:787.6px;top:1344.5px;font-size:36px;">-2</div><div style="position:absolute;left:906.7px;top:1344.5px;font-size:36px;">-1</div><div style="position:absolute;left:1039.7px;top:1344.5px;font-size:36px;">0</div><div style="position:absolute;left:1159.5px;top:1343.7px;font-size:36px;">1</div><div style="position:absolute;left:1284.9px;top:1343.7px;font-size:36px;">2</div><div style="position:absolute;left:1410.5px;top:1343.7px;font-size:36px;">3</div><div style="position:absolute;left:988.2px;top:87.3px;font-size:41px;transform:scaleY(1.077);transform-origin:0 0;">P alone</div><div style="position:absolute;left:988.9px;top:164.4px;font-size:41px;transform:scaleY(1.077);transform-origin:0 0;">P with N deposition</div>
</body></html>
